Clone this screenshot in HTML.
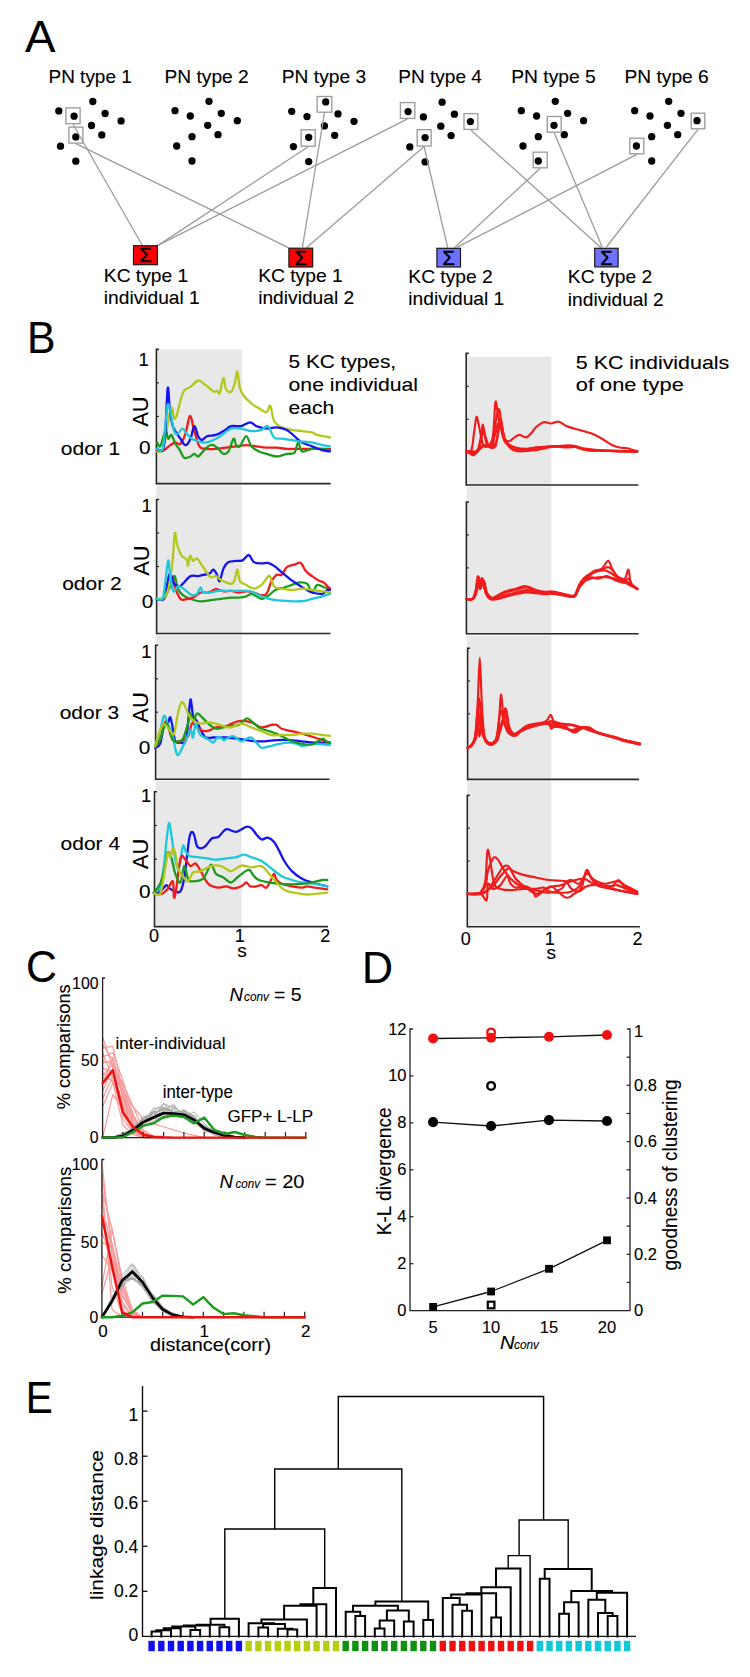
<!DOCTYPE html>
<html><head><meta charset="utf-8"><style>
html,body{margin:0;padding:0;background:#fff;}
svg{display:block;}
text{font-family:"Liberation Sans", sans-serif;stroke:#000;stroke-width:0.12px;}
</style></head><body>
<svg width="750" height="1677" viewBox="0 0 750 1677">
<rect x="0" y="0" width="750" height="1677" fill="#fff"/>
<text x="25.0" y="52.0" font-size="43.5" textLength="30.5" lengthAdjust="spacingAndGlyphs" >A</text>
<text x="48.5" y="82.6" font-size="18.4" textLength="83.3" lengthAdjust="spacingAndGlyphs" >PN type 1</text>
<text x="164.5" y="82.6" font-size="18.4" textLength="84.3" lengthAdjust="spacingAndGlyphs" >PN type 2</text>
<text x="281.8" y="82.6" font-size="18.4" textLength="84.3" lengthAdjust="spacingAndGlyphs" >PN type 3</text>
<text x="398.2" y="82.6" font-size="18.4" textLength="83.8" lengthAdjust="spacingAndGlyphs" >PN type 4</text>
<text x="511.2" y="82.6" font-size="18.4" textLength="84.6" lengthAdjust="spacingAndGlyphs" >PN type 5</text>
<text x="624.5" y="82.6" font-size="18.4" textLength="84.3" lengthAdjust="spacingAndGlyphs" >PN type 6</text>
<circle cx="58.8" cy="110.9" r="3.65" fill="#000" stroke="none" stroke-width="1.0"/>
<circle cx="92.8" cy="101.5" r="3.65" fill="#000" stroke="none" stroke-width="1.0"/>
<circle cx="74.1" cy="116.2" r="3.65" fill="#000" stroke="none" stroke-width="1.0"/>
<circle cx="105.1" cy="113.5" r="3.65" fill="#000" stroke="none" stroke-width="1.0"/>
<circle cx="121.1" cy="120.9" r="3.65" fill="#000" stroke="none" stroke-width="1.0"/>
<circle cx="91.5" cy="125.5" r="3.65" fill="#000" stroke="none" stroke-width="1.0"/>
<circle cx="101.8" cy="134.9" r="3.65" fill="#000" stroke="none" stroke-width="1.0"/>
<circle cx="75.8" cy="136.9" r="3.65" fill="#000" stroke="none" stroke-width="1.0"/>
<circle cx="60.5" cy="146.2" r="3.65" fill="#000" stroke="none" stroke-width="1.0"/>
<circle cx="75.8" cy="161.2" r="3.65" fill="#000" stroke="none" stroke-width="1.0"/>
<circle cx="175.0" cy="110.7" r="3.65" fill="#000" stroke="none" stroke-width="1.0"/>
<circle cx="209.0" cy="101.3" r="3.65" fill="#000" stroke="none" stroke-width="1.0"/>
<circle cx="190.3" cy="116.0" r="3.65" fill="#000" stroke="none" stroke-width="1.0"/>
<circle cx="221.3" cy="113.3" r="3.65" fill="#000" stroke="none" stroke-width="1.0"/>
<circle cx="237.3" cy="120.7" r="3.65" fill="#000" stroke="none" stroke-width="1.0"/>
<circle cx="207.7" cy="125.3" r="3.65" fill="#000" stroke="none" stroke-width="1.0"/>
<circle cx="218.0" cy="134.7" r="3.65" fill="#000" stroke="none" stroke-width="1.0"/>
<circle cx="192.0" cy="136.7" r="3.65" fill="#000" stroke="none" stroke-width="1.0"/>
<circle cx="176.7" cy="146.0" r="3.65" fill="#000" stroke="none" stroke-width="1.0"/>
<circle cx="192.0" cy="161.0" r="3.65" fill="#000" stroke="none" stroke-width="1.0"/>
<circle cx="291.7" cy="111.3" r="3.65" fill="#000" stroke="none" stroke-width="1.0"/>
<circle cx="325.7" cy="101.9" r="3.65" fill="#000" stroke="none" stroke-width="1.0"/>
<circle cx="307.0" cy="116.6" r="3.65" fill="#000" stroke="none" stroke-width="1.0"/>
<circle cx="338.0" cy="113.9" r="3.65" fill="#000" stroke="none" stroke-width="1.0"/>
<circle cx="354.0" cy="121.3" r="3.65" fill="#000" stroke="none" stroke-width="1.0"/>
<circle cx="324.4" cy="125.9" r="3.65" fill="#000" stroke="none" stroke-width="1.0"/>
<circle cx="334.7" cy="135.3" r="3.65" fill="#000" stroke="none" stroke-width="1.0"/>
<circle cx="308.7" cy="137.3" r="3.65" fill="#000" stroke="none" stroke-width="1.0"/>
<circle cx="293.4" cy="146.6" r="3.65" fill="#000" stroke="none" stroke-width="1.0"/>
<circle cx="308.7" cy="161.6" r="3.65" fill="#000" stroke="none" stroke-width="1.0"/>
<circle cx="408.1" cy="111.6" r="3.65" fill="#000" stroke="none" stroke-width="1.0"/>
<circle cx="442.1" cy="102.2" r="3.65" fill="#000" stroke="none" stroke-width="1.0"/>
<circle cx="423.4" cy="116.9" r="3.65" fill="#000" stroke="none" stroke-width="1.0"/>
<circle cx="454.4" cy="114.2" r="3.65" fill="#000" stroke="none" stroke-width="1.0"/>
<circle cx="470.4" cy="121.6" r="3.65" fill="#000" stroke="none" stroke-width="1.0"/>
<circle cx="440.8" cy="126.2" r="3.65" fill="#000" stroke="none" stroke-width="1.0"/>
<circle cx="451.1" cy="135.6" r="3.65" fill="#000" stroke="none" stroke-width="1.0"/>
<circle cx="425.1" cy="137.6" r="3.65" fill="#000" stroke="none" stroke-width="1.0"/>
<circle cx="409.8" cy="146.9" r="3.65" fill="#000" stroke="none" stroke-width="1.0"/>
<circle cx="425.1" cy="161.9" r="3.65" fill="#000" stroke="none" stroke-width="1.0"/>
<circle cx="521.3" cy="110.7" r="3.65" fill="#000" stroke="none" stroke-width="1.0"/>
<circle cx="555.3" cy="101.3" r="3.65" fill="#000" stroke="none" stroke-width="1.0"/>
<circle cx="536.6" cy="116.0" r="3.65" fill="#000" stroke="none" stroke-width="1.0"/>
<circle cx="567.6" cy="113.3" r="3.65" fill="#000" stroke="none" stroke-width="1.0"/>
<circle cx="583.6" cy="120.7" r="3.65" fill="#000" stroke="none" stroke-width="1.0"/>
<circle cx="554.0" cy="125.3" r="3.65" fill="#000" stroke="none" stroke-width="1.0"/>
<circle cx="564.3" cy="134.7" r="3.65" fill="#000" stroke="none" stroke-width="1.0"/>
<circle cx="538.3" cy="136.7" r="3.65" fill="#000" stroke="none" stroke-width="1.0"/>
<circle cx="523.0" cy="146.0" r="3.65" fill="#000" stroke="none" stroke-width="1.0"/>
<circle cx="538.3" cy="161.0" r="3.65" fill="#000" stroke="none" stroke-width="1.0"/>
<circle cx="634.7" cy="110.7" r="3.65" fill="#000" stroke="none" stroke-width="1.0"/>
<circle cx="668.7" cy="101.3" r="3.65" fill="#000" stroke="none" stroke-width="1.0"/>
<circle cx="650.0" cy="116.0" r="3.65" fill="#000" stroke="none" stroke-width="1.0"/>
<circle cx="681.0" cy="113.3" r="3.65" fill="#000" stroke="none" stroke-width="1.0"/>
<circle cx="697.0" cy="120.7" r="3.65" fill="#000" stroke="none" stroke-width="1.0"/>
<circle cx="667.4" cy="125.3" r="3.65" fill="#000" stroke="none" stroke-width="1.0"/>
<circle cx="677.7" cy="134.7" r="3.65" fill="#000" stroke="none" stroke-width="1.0"/>
<circle cx="651.7" cy="136.7" r="3.65" fill="#000" stroke="none" stroke-width="1.0"/>
<circle cx="636.4" cy="146.0" r="3.65" fill="#000" stroke="none" stroke-width="1.0"/>
<circle cx="651.7" cy="161.0" r="3.65" fill="#000" stroke="none" stroke-width="1.0"/>
<line x1="73.0" y1="124.2" x2="142.4" y2="245.5" stroke="#9c9c9c" stroke-width="1.3" />
<line x1="75.9" y1="143.6" x2="288.7" y2="247.8" stroke="#9c9c9c" stroke-width="1.3" />
<line x1="324.5" y1="112.7" x2="302.4" y2="247.4" stroke="#9c9c9c" stroke-width="1.3" />
<line x1="308.2" y1="146.7" x2="158.0" y2="245.4" stroke="#9c9c9c" stroke-width="1.3" />
<line x1="407.6" y1="118.9" x2="158.0" y2="245.4" stroke="#9c9c9c" stroke-width="1.3" />
<line x1="424.1" y1="146.5" x2="306.7" y2="247.4" stroke="#9c9c9c" stroke-width="1.3" />
<line x1="424.1" y1="146.5" x2="447.7" y2="247.6" stroke="#9c9c9c" stroke-width="1.3" />
<line x1="470.9" y1="129.9" x2="600.8" y2="247.4" stroke="#9c9c9c" stroke-width="1.3" />
<line x1="554.2" y1="132.7" x2="602.4" y2="247.4" stroke="#9c9c9c" stroke-width="1.3" />
<line x1="540.2" y1="168.3" x2="454.7" y2="247.4" stroke="#9c9c9c" stroke-width="1.3" />
<line x1="698.0" y1="129.3" x2="606.4" y2="247.0" stroke="#9c9c9c" stroke-width="1.3" />
<line x1="636.8" y1="154.3" x2="457.3" y2="247.2" stroke="#9c9c9c" stroke-width="1.3" />
<rect x="65.9" y="107.9" width="14.2" height="15.8" fill="none" stroke="#9c9c9c" stroke-width="1.35" />
<rect x="68.9" y="127.1" width="14.0" height="16.0" fill="none" stroke="#9c9c9c" stroke-width="1.35" />
<rect x="317.2" y="96.5" width="14.6" height="15.7" fill="none" stroke="#9c9c9c" stroke-width="1.35" />
<rect x="301.2" y="129.8" width="14.0" height="16.4" fill="none" stroke="#9c9c9c" stroke-width="1.35" />
<rect x="400.4" y="102.6" width="14.4" height="15.8" fill="none" stroke="#9c9c9c" stroke-width="1.35" />
<rect x="417.2" y="129.7" width="13.9" height="16.3" fill="none" stroke="#9c9c9c" stroke-width="1.35" />
<rect x="464.0" y="113.6" width="13.9" height="15.8" fill="none" stroke="#9c9c9c" stroke-width="1.35" />
<rect x="547.2" y="116.5" width="14.0" height="15.7" fill="none" stroke="#9c9c9c" stroke-width="1.35" />
<rect x="533.2" y="152.2" width="14.0" height="15.6" fill="none" stroke="#9c9c9c" stroke-width="1.35" />
<rect x="691.2" y="113.2" width="13.6" height="15.6" fill="none" stroke="#9c9c9c" stroke-width="1.35" />
<rect x="629.8" y="138.2" width="14.0" height="15.6" fill="none" stroke="#9c9c9c" stroke-width="1.35" />
<rect x="133.5" y="245.7" width="23.9" height="19.0" fill="#ff0000" stroke="#1a1a1a" stroke-width="1.2" />
<text x="145.4" y="262.4" font-size="20" text-anchor="middle" font-family='"Liberation Serif", serif' style="stroke-width:0.5px">Σ</text>
<text x="103.8" y="281.7" font-size="18.4" textLength="84.5" lengthAdjust="spacingAndGlyphs" >KC type 1</text>
<text x="103.8" y="304.0" font-size="18.4" textLength="96.0" lengthAdjust="spacingAndGlyphs" >individual 1</text>
<rect x="288.9" y="248.2" width="23.8" height="18.8" fill="#ff0000" stroke="#1a1a1a" stroke-width="1.2" />
<text x="300.8" y="264.7" font-size="20" text-anchor="middle" font-family='"Liberation Serif", serif' style="stroke-width:0.5px">Σ</text>
<text x="258.2" y="281.7" font-size="18.4" textLength="84.5" lengthAdjust="spacingAndGlyphs" >KC type 1</text>
<text x="258.2" y="304.3" font-size="18.4" textLength="96.0" lengthAdjust="spacingAndGlyphs" >individual 2</text>
<rect x="436.9" y="248.3" width="23.6" height="18.7" fill="#7070ff" stroke="#1a1a1a" stroke-width="1.2" />
<text x="448.7" y="264.7" font-size="20" text-anchor="middle" font-family='"Liberation Serif", serif' style="stroke-width:0.5px">Σ</text>
<text x="408.3" y="282.7" font-size="18.4" textLength="84.5" lengthAdjust="spacingAndGlyphs" >KC type 2</text>
<text x="408.3" y="305.2" font-size="18.4" textLength="96.0" lengthAdjust="spacingAndGlyphs" >individual 1</text>
<rect x="594.7" y="248.3" width="23.4" height="18.6" fill="#7070ff" stroke="#1a1a1a" stroke-width="1.2" />
<text x="606.4" y="264.6" font-size="20" text-anchor="middle" font-family='"Liberation Serif", serif' style="stroke-width:0.5px">Σ</text>
<text x="567.8" y="283.4" font-size="18.4" textLength="84.5" lengthAdjust="spacingAndGlyphs" >KC type 2</text>
<text x="567.8" y="306.1" font-size="18.4" textLength="96.0" lengthAdjust="spacingAndGlyphs" >individual 2</text>
<text x="27.0" y="352.5" font-size="43.5" textLength="28.5" lengthAdjust="spacingAndGlyphs" >B</text>
<polygon points="156.6,349.5 242.0,349.5 241.6,926.5 155.3,926.5" fill="#e8e8e8"/>
<polygon points="466.5,356.8 551.3,356.8 551.3,926.5 467.5,926.5" fill="#e8e8e8"/>
<line x1="157.2" y1="485.0" x2="330.7" y2="485.0" stroke="#f8f8f8" stroke-width="1.0" />
<path d="M158.9,349.4 H156.4 V483.6 H330.7" fill="none" stroke="#2a2a2a" stroke-width="1.6"/>
<line x1="156.4" y1="382.9" x2="158.9" y2="382.9" stroke="#2a2a2a" stroke-width="1.2" />
<line x1="156.4" y1="416.5" x2="158.9" y2="416.5" stroke="#2a2a2a" stroke-width="1.2" />
<line x1="157.4" y1="634.9" x2="330.5" y2="634.9" stroke="#f8f8f8" stroke-width="1.0" />
<path d="M159.1,499.5 H156.6 V633.5 H330.5" fill="none" stroke="#2a2a2a" stroke-width="1.6"/>
<line x1="156.6" y1="533.0" x2="159.1" y2="533.0" stroke="#2a2a2a" stroke-width="1.2" />
<line x1="156.6" y1="566.5" x2="159.1" y2="566.5" stroke="#2a2a2a" stroke-width="1.2" />
<line x1="156.4" y1="780.6" x2="329.5" y2="780.6" stroke="#f8f8f8" stroke-width="1.0" />
<path d="M158.1,645.3 H155.6 V779.2 H329.5" fill="none" stroke="#2a2a2a" stroke-width="1.6"/>
<line x1="155.6" y1="678.8" x2="158.1" y2="678.8" stroke="#2a2a2a" stroke-width="1.2" />
<line x1="155.6" y1="712.2" x2="158.1" y2="712.2" stroke="#2a2a2a" stroke-width="1.2" />
<line x1="155.3" y1="928.0" x2="328.0" y2="928.0" stroke="#f8f8f8" stroke-width="1.0" />
<path d="M157.0,791.8 H154.5 V926.6 H328.0" fill="none" stroke="#2a2a2a" stroke-width="1.6"/>
<line x1="154.5" y1="825.5" x2="157.0" y2="825.5" stroke="#2a2a2a" stroke-width="1.2" />
<line x1="154.5" y1="859.2" x2="157.0" y2="859.2" stroke="#2a2a2a" stroke-width="1.2" />
<line x1="467.0" y1="486.4" x2="638.4" y2="486.4" stroke="#f8f8f8" stroke-width="1.0" />
<path d="M468.7,353.4 H466.2 V485.0 H638.4" fill="none" stroke="#2a2a2a" stroke-width="1.6"/>
<line x1="466.2" y1="386.3" x2="468.7" y2="386.3" stroke="#2a2a2a" stroke-width="1.2" />
<line x1="466.2" y1="419.2" x2="468.7" y2="419.2" stroke="#2a2a2a" stroke-width="1.2" />
<line x1="467.2" y1="635.2" x2="638.6" y2="635.2" stroke="#f8f8f8" stroke-width="1.0" />
<path d="M468.9,502.0 H466.4 V633.8 H638.6" fill="none" stroke="#2a2a2a" stroke-width="1.6"/>
<line x1="466.4" y1="535.0" x2="468.9" y2="535.0" stroke="#2a2a2a" stroke-width="1.2" />
<line x1="466.4" y1="567.9" x2="468.9" y2="567.9" stroke="#2a2a2a" stroke-width="1.2" />
<line x1="468.4" y1="780.8" x2="639.0" y2="780.8" stroke="#f8f8f8" stroke-width="1.0" />
<path d="M470.1,648.2 H467.6 V779.4 H639.0" fill="none" stroke="#2a2a2a" stroke-width="1.6"/>
<line x1="467.6" y1="681.0" x2="470.1" y2="681.0" stroke="#2a2a2a" stroke-width="1.2" />
<line x1="467.6" y1="713.8" x2="470.1" y2="713.8" stroke="#2a2a2a" stroke-width="1.2" />
<line x1="468.1" y1="928.1" x2="639.9" y2="928.1" stroke="#f8f8f8" stroke-width="1.0" />
<path d="M469.8,795.4 H467.3 V926.7 H639.9" fill="none" stroke="#2a2a2a" stroke-width="1.6"/>
<line x1="467.3" y1="828.2" x2="469.8" y2="828.2" stroke="#2a2a2a" stroke-width="1.2" />
<line x1="467.3" y1="861.0" x2="469.8" y2="861.0" stroke="#2a2a2a" stroke-width="1.2" />
<path d="M157.1,451.4 C157.8,451.4 160.3,452.3 161.4,451.4 C162.5,450.6 163.1,449.7 163.9,446.3 C164.8,443.0 165.4,437.1 166.5,431.1 C167.5,425.2 169.3,414.7 170.3,410.9 C171.2,407.1 171.7,407.1 172.3,408.3 C172.9,409.6 173.4,417.2 174.1,418.5 C174.8,419.7 175.5,418.9 176.6,415.9 C177.7,413.0 179.1,405.0 180.4,400.7 C181.7,396.5 182.5,392.9 184.2,390.6 C185.9,388.3 188.2,388.5 190.5,386.8 C192.9,385.1 195.8,380.9 198.1,380.5 C200.5,380.0 202.4,382.8 204.5,384.3 C206.6,385.7 209.1,388.1 210.8,389.3 C212.5,390.6 213.6,391.7 214.6,391.9 C215.7,392.1 216.3,390.4 217.1,390.6 C218.0,390.8 218.6,395.2 219.7,393.1 C220.7,391.0 222.4,378.6 223.5,377.9 C224.5,377.3 224.7,387.0 226.0,389.3 C227.3,391.7 229.6,392.9 231.1,391.9 C232.6,390.8 233.8,386.4 234.9,383.0 C235.9,379.6 236.6,370.8 237.4,371.6 C238.3,372.4 238.9,384.1 239.9,388.1 C241.0,392.1 241.8,393.1 243.7,395.7 C245.6,398.2 248.8,401.2 251.3,403.3 C253.9,405.4 256.4,406.9 258.9,408.3 C261.5,409.8 264.6,412.6 266.5,412.1 C268.4,411.7 269.1,404.3 270.3,405.8 C271.6,407.3 272.2,417.4 274.1,421.0 C276.0,424.6 278.8,425.9 281.7,427.3 C284.7,428.8 288.5,429.2 291.9,429.9 C295.3,430.5 298.6,430.7 302.0,431.1 C305.4,431.6 309.6,431.8 312.1,432.4 C314.7,433.0 314.3,434.1 317.2,434.9 C320.2,435.8 327.8,437.1 329.9,437.5" fill="none" stroke="#b4c81c" stroke-width="2.3" stroke-linejoin="round" stroke-linecap="round" />
<path d="M157.1,450.1 C158.2,450.1 161.7,451.0 163.9,450.1 C166.1,449.3 168.4,446.3 170.3,445.1 C172.2,443.8 173.6,442.8 175.3,442.5 C177.0,442.3 178.7,445.3 180.4,443.8 C182.1,442.3 183.9,438.3 185.5,433.7 C187.1,429.0 188.6,416.4 190.0,415.9 C191.5,415.5 192.8,426.1 194.3,431.1 C195.9,436.2 197.5,443.4 199.4,446.3 C201.3,449.3 203.0,448.5 205.7,448.9 C208.5,449.3 212.5,449.1 215.9,448.9 C219.3,448.7 222.6,448.0 226.0,447.6 C229.4,447.2 232.8,446.8 236.1,446.3 C239.5,445.9 242.9,445.1 246.3,445.1 C249.7,445.1 253.0,445.9 256.4,446.3 C259.8,446.8 263.2,447.4 266.5,447.6 C269.9,447.8 273.3,447.4 276.7,447.6 C280.1,447.8 283.4,448.7 286.8,448.9 C290.2,449.1 293.6,448.9 296.9,448.9 C300.3,448.9 303.7,448.9 307.1,448.9 C310.5,448.9 313.4,448.9 317.2,448.9 C321.0,448.9 327.8,448.9 329.9,448.9" fill="none" stroke="#f01c1c" stroke-width="2.3" stroke-linejoin="round" stroke-linecap="round" />
<path d="M157.1,442.5 C157.6,443.2 159.0,447.6 160.1,446.3 C161.3,445.1 163.0,437.7 163.9,434.9 C164.9,432.2 165.0,429.2 165.7,429.9 C166.4,430.5 167.3,437.9 168.2,438.7 C169.2,439.6 170.4,434.1 171.5,434.9 C172.7,435.8 174.1,441.5 175.3,443.8 C176.6,446.1 177.7,446.6 179.1,448.9 C180.6,451.2 182.3,456.5 184.2,457.7 C186.1,459.0 188.8,457.1 190.5,456.5 C192.2,455.8 193.1,453.9 194.3,453.9 C195.6,453.9 196.9,456.7 198.1,456.5 C199.4,456.3 200.2,454.4 201.9,452.7 C203.6,451.0 206.4,447.6 208.3,446.3 C210.2,445.1 211.7,444.7 213.3,445.1 C215.0,445.5 216.7,447.4 218.4,448.9 C220.1,450.4 221.8,453.5 223.5,453.9 C225.2,454.4 226.9,453.9 228.5,451.4 C230.2,448.9 232.3,439.8 233.6,438.7 C234.9,437.7 235.1,443.8 236.1,445.1 C237.2,446.3 238.3,447.8 239.9,446.3 C241.6,444.9 244.4,436.2 246.3,436.2 C248.2,436.2 249.2,443.8 251.3,446.3 C253.5,448.9 256.4,450.1 258.9,451.4 C261.5,452.7 263.6,453.1 266.5,453.9 C269.5,454.8 273.3,456.5 276.7,456.5 C280.1,456.5 283.9,454.6 286.8,453.9 C289.8,453.3 292.5,454.6 294.4,452.7 C296.3,450.8 296.9,442.8 298.2,442.5 C299.5,442.3 299.7,450.4 302.0,451.4 C304.3,452.5 308.8,449.3 312.1,448.9 C315.5,448.5 319.3,448.7 322.3,448.9 C325.2,449.1 328.6,449.9 329.9,450.1" fill="none" stroke="#1c9c1c" stroke-width="2.3" stroke-linejoin="round" stroke-linecap="round" />
<path d="M157.1,448.9 C158.0,449.1 161.3,452.7 162.7,450.1 C164.0,447.6 164.4,444.0 165.2,433.7 C166.0,423.3 167.0,392.3 167.7,388.1 C168.5,383.8 168.9,402.0 169.8,408.3 C170.6,414.7 171.0,421.0 172.8,426.1 C174.6,431.1 178.3,435.6 180.4,438.7 C182.5,441.9 183.8,445.1 185.5,445.1 C187.2,445.1 189.1,441.9 190.5,438.7 C192.0,435.6 193.1,426.5 194.3,426.1 C195.6,425.7 196.9,433.9 198.1,436.2 C199.4,438.5 200.5,440.0 201.9,440.0 C203.4,440.0 204.7,437.1 207.0,436.2 C209.3,435.4 213.1,435.8 215.9,434.9 C218.6,434.1 220.9,432.6 223.5,431.1 C226.0,429.7 228.1,426.9 231.1,426.1 C234.0,425.2 238.0,426.7 241.2,426.1 C244.4,425.4 247.5,422.3 250.1,422.3 C252.6,422.3 253.7,425.0 256.4,426.1 C259.2,427.1 263.2,428.4 266.5,428.6 C269.9,428.8 273.3,427.1 276.7,427.3 C280.1,427.6 283.9,428.4 286.8,429.9 C289.8,431.4 291.9,434.1 294.4,436.2 C296.9,438.3 299.1,440.9 302.0,442.5 C305.0,444.2 308.8,445.1 312.1,446.3 C315.5,447.6 319.3,449.3 322.3,450.1 C325.2,451.0 328.6,451.2 329.9,451.4" fill="none" stroke="#1414f0" stroke-width="2.3" stroke-linejoin="round" stroke-linecap="round" />
<path d="M157.1,448.9 C158.0,448.9 161.2,453.5 162.7,448.9 C164.1,444.2 164.9,428.4 165.7,421.0 C166.6,413.6 167.0,406.2 167.7,404.5 C168.5,402.8 169.2,406.4 170.3,410.9 C171.3,415.3 172.8,427.3 174.1,431.1 C175.3,434.9 176.5,434.1 177.9,433.7 C179.3,433.3 181.0,428.6 182.4,428.6 C183.9,428.6 185.2,432.0 186.7,433.7 C188.3,435.4 189.9,437.5 191.8,438.7 C193.7,440.0 195.8,440.6 198.1,441.3 C200.5,441.9 202.8,443.0 205.7,442.5 C208.7,442.1 212.9,440.2 215.9,438.7 C218.8,437.3 220.9,435.4 223.5,433.7 C226.0,432.0 228.1,429.5 231.1,428.6 C234.0,427.8 237.8,428.2 241.2,428.6 C244.6,429.0 248.0,430.9 251.3,431.1 C254.7,431.4 258.7,430.7 261.5,429.9 C264.2,429.0 265.7,424.8 267.8,426.1 C269.9,427.3 271.8,435.4 274.1,437.5 C276.5,439.6 278.8,438.3 281.7,438.7 C284.7,439.2 288.9,439.6 291.9,440.0 C294.8,440.4 296.1,440.9 299.5,441.3 C302.9,441.7 308.3,441.9 312.1,442.5 C315.9,443.2 319.3,444.4 322.3,445.1 C325.2,445.7 328.6,446.1 329.9,446.3" fill="none" stroke="#1ec8dc" stroke-width="2.3" stroke-linejoin="round" stroke-linecap="round" />
<path d="M466.3,451.3 C467.2,451.1 470.1,453.0 471.4,450.1 C472.7,447.1 473.1,439.1 473.9,433.6 C474.8,428.1 475.6,418.4 476.5,417.1 C477.3,415.9 477.9,421.6 479.0,426.0 C480.1,430.4 481.3,440.4 482.8,443.7 C484.3,447.1 486.2,447.5 487.9,446.3 C489.6,445.0 491.7,443.5 492.9,436.1 C494.2,428.8 494.6,405.3 495.5,401.9 C496.3,398.6 497.2,411.9 498.0,415.9 C498.8,419.9 499.5,422.2 500.5,426.0 C501.6,429.8 502.9,436.1 504.3,438.7 C505.8,441.2 507.7,441.4 509.4,441.2 C511.1,441.0 512.8,438.5 514.5,437.4 C516.2,436.4 517.6,434.9 519.5,434.9 C521.4,434.9 524.0,437.6 525.9,437.4 C527.8,437.2 529.3,435.3 530.9,433.6 C532.6,431.9 533.9,429.2 536.0,427.3 C538.1,425.4 541.1,422.8 543.6,422.2 C546.1,421.6 548.7,423.6 551.2,423.5 C553.7,423.4 556.3,421.3 558.8,421.7 C561.3,422.1 563.9,424.9 566.4,426.0 C568.9,427.1 571.5,427.8 574.0,428.5 C576.5,429.3 578.7,429.7 581.6,430.6 C584.6,431.4 588.4,432.3 591.7,433.6 C595.1,435.0 598.5,436.8 601.9,438.7 C605.3,440.6 609.1,443.5 612.0,445.0 C615.0,446.5 617.1,447.0 619.6,447.5 C622.1,448.1 624.3,447.7 627.2,448.3 C630.2,448.9 635.7,450.8 637.3,451.3" fill="none" stroke="#f01c1c" stroke-width="2.15" stroke-linejoin="round" stroke-linecap="round" />
<path d="M466.3,451.3 C467.4,451.3 470.8,451.6 472.7,451.3 C474.6,451.1 476.3,453.0 477.7,450.1 C479.2,447.1 480.7,437.8 481.5,433.6 C482.4,429.4 482.2,424.3 482.8,424.7 C483.4,425.2 484.3,432.6 485.3,436.1 C486.4,439.7 487.9,444.8 489.1,446.3 C490.4,447.8 491.9,448.8 492.9,445.0 C494.0,441.2 494.4,429.4 495.5,423.5 C496.5,417.6 498.0,407.2 499.3,409.5 C500.5,411.9 501.6,431.5 503.1,437.4 C504.5,443.3 506.0,443.1 508.1,445.0 C510.2,446.9 512.8,448.0 515.7,448.8 C518.7,449.7 522.5,450.3 525.9,450.1 C529.3,449.9 531.8,448.2 536.0,447.5 C540.2,446.9 547.0,446.6 551.2,446.3 C555.4,446.0 558.0,445.9 561.3,445.8 C564.7,445.7 568.1,445.3 571.5,445.8 C574.9,446.3 578.2,448.1 581.6,448.8 C585.0,449.5 586.7,449.7 591.7,450.1 C596.8,450.4 604.4,450.6 612.0,450.8 C619.6,451.0 633.1,451.3 637.3,451.3" fill="none" stroke="#f01c1c" stroke-width="2.15" stroke-linejoin="round" stroke-linecap="round" />
<path d="M466.3,451.3 C467.6,451.8 472.0,453.9 473.9,453.9 C475.8,453.9 476.7,453.0 477.7,451.3 C478.8,449.7 479.3,447.1 480.3,443.7 C481.2,440.4 482.3,431.1 483.3,431.1 C484.4,431.1 485.4,441.0 486.6,443.7 C487.8,446.5 488.9,447.1 490.4,447.5 C491.9,448.0 494.2,448.6 495.5,446.3 C496.7,444.0 497.2,437.4 498.0,433.6 C498.8,429.8 499.2,423.1 500.0,423.5 C500.9,423.9 501.7,432.8 503.1,436.1 C504.4,439.5 506.0,441.8 508.1,443.7 C510.2,445.6 512.8,446.7 515.7,447.5 C518.7,448.4 522.5,448.8 525.9,448.8 C529.3,448.8 531.8,447.9 536.0,447.5 C540.2,447.2 547.0,447.0 551.2,446.8 C555.4,446.6 557.5,446.4 561.3,446.3 C565.1,446.1 569.8,445.1 574.0,445.8 C578.2,446.4 580.3,449.2 586.7,450.1 C593.0,450.9 603.6,450.6 612.0,450.8 C620.5,451.0 633.1,451.3 637.3,451.3" fill="none" stroke="#f01c1c" stroke-width="2.15" stroke-linejoin="round" stroke-linecap="round" />
<path d="M466.3,451.3 C467.4,452.0 471.2,454.7 472.7,455.1 C474.1,455.6 473.9,454.9 475.2,453.9 C476.5,452.8 478.6,450.3 480.3,448.8 C482.0,447.3 483.6,445.4 485.3,445.0 C487.0,444.6 488.7,448.2 490.4,446.3 C492.1,444.4 494.2,437.4 495.5,433.6 C496.7,429.8 496.9,424.7 498.0,423.5 C499.1,422.2 500.5,423.1 501.8,426.0 C503.1,429.0 503.7,437.2 505.6,441.2 C507.5,445.2 510.2,448.4 513.2,450.1 C516.2,451.8 519.5,451.6 523.3,451.3 C527.1,451.1 531.4,449.7 536.0,448.8 C540.7,448.0 546.1,446.5 551.2,446.3 C556.3,446.1 562.2,447.4 566.4,447.5 C570.6,447.7 573.2,446.6 576.5,447.0 C579.9,447.5 580.8,449.4 586.7,450.1 C592.6,450.7 603.6,450.6 612.0,450.8 C620.5,451.0 633.1,451.3 637.3,451.3" fill="none" stroke="#f01c1c" stroke-width="2.15" stroke-linejoin="round" stroke-linecap="round" />
<path d="M466.3,451.3 C467.6,451.6 471.6,453.2 473.9,452.6 C476.3,452.0 478.4,448.8 480.3,447.5 C482.2,446.3 483.2,445.2 485.3,445.0 C487.4,444.8 491.0,447.1 492.9,446.3 C494.8,445.4 495.5,444.6 496.7,439.9 C498.0,435.3 499.3,418.6 500.5,418.4 C501.8,418.2 502.6,434.0 504.3,438.7 C506.0,443.3 507.9,444.2 510.7,446.3 C513.4,448.3 516.6,450.2 520.8,450.8 C525.0,451.5 530.9,450.7 536.0,450.1 C541.1,449.4 546.6,447.7 551.2,447.0 C555.9,446.4 560.1,446.4 563.9,446.3 C567.7,446.1 570.2,445.9 574.0,446.3 C577.8,446.7 580.3,448.0 586.7,448.8 C593.0,449.7 603.6,450.9 612.0,451.3 C620.5,451.8 633.1,451.3 637.3,451.3" fill="none" stroke="#f01c1c" stroke-width="2.15" stroke-linejoin="round" stroke-linecap="round" />
<path d="M156.3,598.9 C157.6,598.9 161.8,600.6 163.9,598.9 C166.0,597.2 167.5,591.7 169.0,588.7 C170.5,585.8 171.8,583.3 172.8,581.1 C173.8,579.0 174.0,574.8 174.8,576.1 C175.7,577.3 176.5,585.6 177.9,588.7 C179.2,591.9 180.8,593.4 182.9,595.1 C185.0,596.8 187.6,597.8 190.5,598.9 C193.5,599.9 197.3,601.2 200.7,601.4 C204.0,601.6 207.4,600.6 210.8,600.1 C214.2,599.7 217.6,599.3 220.9,598.9 C224.3,598.5 228.1,597.8 231.1,597.6 C234.0,597.4 236.1,597.8 238.7,597.6 C241.2,597.4 244.2,597.0 246.3,596.3 C248.4,595.7 249.7,593.8 251.3,593.8 C253.0,593.8 254.5,595.5 256.4,596.3 C258.3,597.2 260.6,599.1 262.7,598.9 C264.9,598.7 267.0,596.6 269.1,595.1 C271.2,593.6 272.9,591.3 275.4,590.0 C277.9,588.7 281.5,588.3 284.3,587.5 C287.0,586.6 289.3,585.8 291.9,584.9 C294.4,584.1 296.9,582.6 299.5,582.4 C302.0,582.2 305.0,582.0 307.1,583.7 C309.2,585.4 310.5,592.3 312.1,592.5 C313.8,592.8 315.1,585.8 317.2,584.9 C319.3,584.1 322.7,586.8 324.8,587.5 C326.9,588.1 329.0,588.5 329.9,588.7" fill="none" stroke="#1c9c1c" stroke-width="2.3" stroke-linejoin="round" stroke-linecap="round" />
<path d="M156.3,598.9 C157.4,598.8 160.8,600.9 162.7,598.4 C164.6,595.8 166.3,587.4 167.7,583.7 C169.2,580.0 170.3,575.2 171.5,576.1 C172.8,576.9 173.9,584.9 175.3,588.7 C176.8,592.5 178.7,597.1 180.4,598.9 C182.1,600.6 183.4,599.6 185.5,599.4 C187.6,599.2 190.5,598.7 193.1,597.6 C195.6,596.5 198.1,593.4 200.7,592.5 C203.2,591.7 205.7,593.1 208.3,592.5 C210.8,592.0 213.3,589.5 215.9,589.2 C218.4,589.0 220.9,591.0 223.5,591.3 C226.0,591.5 228.5,590.6 231.1,590.8 C233.6,591.0 236.1,592.5 238.7,592.5 C241.2,592.6 243.7,591.3 246.3,591.3 C248.8,591.3 251.3,591.9 253.9,592.5 C256.4,593.2 259.4,594.9 261.5,595.1 C263.6,595.3 264.9,596.1 266.5,593.8 C268.2,591.5 269.9,584.3 271.6,581.1 C273.3,578.0 275.0,575.9 276.7,574.8 C278.4,573.8 280.1,576.1 281.7,574.8 C283.4,573.5 284.7,568.9 286.8,567.2 C288.9,565.5 292.1,565.4 294.4,564.7 C296.7,564.0 298.8,561.8 300.7,562.9 C302.6,564.0 303.9,568.8 305.8,571.0 C307.7,573.2 309.8,574.4 312.1,576.1 C314.5,577.8 317.8,580.1 319.7,581.1 C321.6,582.2 321.9,581.1 323.5,582.4 C325.2,583.7 328.8,587.7 329.9,588.7" fill="none" stroke="#f01c1c" stroke-width="2.3" stroke-linejoin="round" stroke-linecap="round" />
<path d="M156.3,598.9 C157.6,598.9 162.0,601.8 163.9,598.9 C165.8,595.9 166.7,585.4 167.7,581.1 C168.8,576.9 169.2,573.1 170.3,573.5 C171.3,574.0 172.6,581.6 174.1,583.7 C175.5,585.8 177.7,586.2 179.1,586.2 C180.6,586.2 181.0,585.4 182.9,583.7 C184.8,582.0 188.0,577.3 190.5,576.1 C193.1,574.8 196.0,576.3 198.1,576.1 C200.2,575.9 201.3,575.2 203.2,574.8 C205.1,574.4 207.8,574.4 209.5,573.5 C211.2,572.7 212.1,569.5 213.3,569.7 C214.6,570.0 216.1,572.9 217.1,574.8 C218.2,576.7 218.6,582.2 219.7,581.1 C220.7,580.1 222.0,571.6 223.5,568.5 C225.0,565.3 226.4,563.4 228.5,562.1 C230.7,560.9 233.8,561.2 236.1,560.9 C238.5,560.6 240.4,561.3 242.5,560.4 C244.6,559.4 246.9,554.8 248.8,555.0 C250.7,555.3 251.8,560.7 253.9,562.1 C256.0,563.5 259.2,563.3 261.5,563.4 C263.8,563.5 265.7,562.5 267.8,562.9 C269.9,563.3 271.8,564.4 274.1,565.9 C276.5,567.5 279.2,570.2 281.7,572.3 C284.3,574.4 286.8,576.7 289.3,578.6 C291.9,580.5 294.4,582.0 296.9,583.7 C299.5,585.4 302.0,587.3 304.5,588.7 C307.1,590.2 309.2,591.7 312.1,592.5 C315.1,593.4 319.7,594.2 322.3,593.8 C324.8,593.4 326.1,590.6 327.3,590.0 C328.6,589.4 329.5,590.0 329.9,590.0" fill="none" stroke="#1414f0" stroke-width="2.3" stroke-linejoin="round" stroke-linecap="round" />
<path d="M156.3,598.9 C157.6,598.7 161.8,599.7 163.9,597.6 C166.0,595.5 167.5,592.8 169.0,586.2 C170.5,579.7 171.8,567.2 172.8,558.3 C173.8,549.5 174.1,535.1 174.8,533.0 C175.6,530.9 176.2,541.9 177.4,545.7 C178.5,549.5 180.1,553.5 181.7,555.8 C183.2,558.1 185.7,557.9 186.7,559.6 C187.8,561.3 187.5,566.6 188.0,565.9 C188.6,565.3 189.2,556.7 190.0,555.8 C190.9,555.0 191.9,560.5 193.1,560.9 C194.2,561.3 195.6,557.9 196.9,558.3 C198.1,558.8 199.2,561.3 200.7,563.4 C202.1,565.5 204.0,568.7 205.7,571.0 C207.4,573.3 209.1,576.5 210.8,577.3 C212.5,578.2 214.2,575.7 215.9,576.1 C217.6,576.5 219.3,578.8 220.9,579.9 C222.6,580.9 224.1,581.8 226.0,582.4 C227.9,583.0 230.9,584.3 232.3,583.7 C233.8,583.0 234.0,580.9 234.9,578.6 C235.7,576.3 236.6,569.3 237.4,569.7 C238.3,570.2 238.5,578.6 239.9,581.1 C241.4,583.7 244.0,583.7 246.3,584.9 C248.6,586.2 251.3,588.7 253.9,588.7 C256.4,588.7 259.4,586.6 261.5,584.9 C263.6,583.3 265.2,580.1 266.5,578.6 C267.9,577.1 268.6,574.8 269.8,576.1 C271.1,577.3 272.2,584.1 274.1,586.2 C276.1,588.3 278.8,588.1 281.7,588.7 C284.7,589.4 288.5,590.0 291.9,590.0 C295.3,590.0 298.6,588.7 302.0,588.7 C305.4,588.7 308.8,589.6 312.1,590.0 C315.5,590.4 319.3,590.9 322.3,591.3 C325.2,591.7 328.6,592.3 329.9,592.5" fill="none" stroke="#b4c81c" stroke-width="2.3" stroke-linejoin="round" stroke-linecap="round" />
<path d="M156.3,598.9 C157.4,598.8 161.1,601.7 162.7,598.4 C164.2,595.0 164.8,584.9 165.7,578.6 C166.6,572.3 167.5,560.8 168.2,560.4 C169.0,559.9 169.4,570.9 170.3,576.1 C171.1,581.2 172.0,589.6 173.3,591.3 C174.6,593.0 176.5,586.8 177.9,586.2 C179.3,585.6 180.2,586.6 181.7,587.5 C183.1,588.3 185.0,590.0 186.7,591.3 C188.4,592.5 190.1,594.7 191.8,595.1 C193.5,595.5 195.4,595.1 196.9,593.8 C198.3,592.5 199.6,587.7 200.7,587.5 C201.7,587.3 201.5,591.7 203.2,592.5 C204.9,593.4 208.3,592.8 210.8,592.5 C213.3,592.2 215.9,591.1 218.4,590.8 C220.9,590.5 223.1,590.8 226.0,590.8 C229.0,590.8 232.6,590.8 236.1,590.8 C239.7,590.8 244.6,590.5 247.5,590.8 C250.5,591.1 251.6,591.6 253.9,592.5 C256.2,593.5 258.9,595.3 261.5,596.3 C264.0,597.4 266.5,598.2 269.1,598.9 C271.6,599.5 273.7,599.8 276.7,600.1 C279.6,600.5 283.4,600.7 286.8,600.9 C290.2,601.1 294.0,601.4 296.9,601.4 C299.9,601.4 302.0,601.3 304.5,600.9 C307.1,600.5 309.2,599.6 312.1,598.9 C315.1,598.1 319.3,597.2 322.3,596.3 C325.2,595.5 328.6,594.2 329.9,593.8" fill="none" stroke="#1ec8dc" stroke-width="2.3" stroke-linejoin="round" stroke-linecap="round" />
<path d="M466.3,598.9 C467.4,598.9 471.1,600.1 472.7,598.9 C474.2,597.6 474.9,595.1 475.7,591.3 C476.6,587.5 477.1,576.5 477.7,576.1 C478.4,575.7 479.1,588.3 479.8,588.7 C480.4,589.2 480.9,579.9 481.5,578.6 C482.1,577.3 482.7,579.0 483.3,581.1 C483.9,583.3 484.2,588.3 485.3,591.3 C486.5,594.2 488.3,598.0 490.4,598.9 C492.5,599.7 495.5,597.4 498.0,596.3 C500.5,595.3 502.6,593.6 505.6,592.5 C508.6,591.5 512.4,590.9 515.7,590.0 C519.1,589.2 522.5,587.3 525.9,587.5 C529.3,587.7 532.6,590.4 536.0,591.3 C539.4,592.1 543.6,592.3 546.1,592.5 C548.7,592.8 548.7,592.3 551.2,592.5 C553.7,592.8 558.0,593.2 561.3,593.8 C564.7,594.4 569.2,596.1 571.5,596.3 C573.8,596.6 574.0,596.8 575.3,595.1 C576.5,593.4 577.6,589.0 579.1,586.2 C580.6,583.5 582.5,580.5 584.1,578.6 C585.8,576.7 587.5,576.1 589.2,574.8 C590.9,573.5 592.2,572.1 594.3,571.0 C596.4,570.0 599.6,570.2 601.9,568.5 C604.2,566.8 606.5,560.9 608.2,560.9 C609.9,560.9 610.5,565.9 612.0,568.5 C613.5,571.0 615.0,574.4 617.1,576.1 C619.2,577.8 622.8,579.7 624.7,578.6 C626.6,577.6 627.4,568.9 628.5,569.7 C629.5,570.6 629.5,580.5 631.0,583.7 C632.5,586.8 636.3,587.9 637.3,588.7" fill="none" stroke="#f01c1c" stroke-width="2.15" stroke-linejoin="round" stroke-linecap="round" />
<path d="M466.3,598.9 C467.4,598.9 471.0,599.9 472.7,598.9 C474.4,597.8 475.5,595.9 476.5,592.5 C477.4,589.2 477.6,579.5 478.2,578.6 C478.9,577.8 479.6,587.3 480.3,587.5 C480.9,587.7 481.7,580.5 482.3,579.9 C482.9,579.2 483.4,581.6 484.1,583.7 C484.8,585.8 485.3,590.2 486.6,592.5 C487.9,594.9 489.8,596.8 491.7,597.6 C493.6,598.5 495.7,598.0 498.0,597.6 C500.3,597.2 502.6,595.9 505.6,595.1 C508.6,594.2 512.4,593.4 515.7,592.5 C519.1,591.7 522.5,590.1 525.9,590.0 C529.3,589.9 532.6,591.2 536.0,591.8 C539.4,592.3 543.6,593.2 546.1,593.3 C548.7,593.4 548.7,592.4 551.2,592.5 C553.7,592.7 558.0,593.7 561.3,594.3 C564.7,594.9 569.2,596.2 571.5,596.3 C573.8,596.5 573.8,597.0 575.3,595.1 C576.8,593.2 578.7,587.5 580.3,584.9 C582.0,582.4 583.5,581.1 585.4,579.9 C587.3,578.6 589.6,577.6 591.7,577.3 C593.9,577.1 595.5,578.8 598.1,578.6 C600.6,578.4 604.2,575.9 606.9,576.1 C609.7,576.3 612.0,578.8 614.5,579.9 C617.1,580.9 620.0,581.8 622.1,582.4 C624.3,583.0 624.7,582.5 627.2,583.7 C629.7,584.8 635.7,588.3 637.3,589.2" fill="none" stroke="#f01c1c" stroke-width="2.15" stroke-linejoin="round" stroke-linecap="round" />
<path d="M466.3,598.9 C467.4,598.9 471.0,600.1 472.7,598.9 C474.3,597.7 475.2,595.4 476.2,591.8 C477.2,588.2 478.0,577.9 478.7,577.3 C479.5,576.7 480.1,587.7 480.8,588.2 C481.5,588.8 482.2,581.6 482.8,580.6 C483.4,579.7 483.9,580.3 484.6,582.4 C485.3,584.5 485.9,590.6 487.1,593.3 C488.3,596.0 489.9,598.0 491.7,598.9 C493.5,599.7 495.7,598.9 498.0,598.4 C500.3,597.9 502.6,596.6 505.6,595.8 C508.6,595.1 512.4,594.6 515.7,593.8 C519.1,593.0 522.5,591.5 525.9,591.3 C529.3,591.1 532.6,592.2 536.0,592.5 C539.4,592.9 543.6,593.2 546.1,593.3 C548.7,593.4 548.7,593.1 551.2,593.3 C553.7,593.5 558.0,594.0 561.3,594.6 C564.7,595.2 569.2,596.6 571.5,596.8 C573.8,597.1 573.9,597.5 575.3,595.8 C576.6,594.1 578.0,589.2 579.6,586.7 C581.1,584.3 582.8,582.5 584.7,581.1 C586.5,579.8 588.2,579.2 590.5,578.6 C592.7,578.0 595.3,577.6 598.1,577.3 C600.8,577.1 604.2,577.1 606.9,577.3 C609.7,577.6 611.8,577.8 614.5,578.6 C617.3,579.5 621.1,582.4 623.4,582.4 C625.7,582.4 627.0,578.2 628.5,578.6 C630.0,579.0 630.8,583.3 632.3,584.9 C633.8,586.6 636.5,588.1 637.3,588.7" fill="none" stroke="#f01c1c" stroke-width="2.15" stroke-linejoin="round" stroke-linecap="round" />
<path d="M466.3,598.9 C467.4,598.9 471.1,600.1 472.7,598.9 C474.3,597.6 475.1,594.2 476.0,591.3 C476.8,588.3 477.3,581.5 478.0,581.1 C478.7,580.8 479.3,589.2 480.0,589.2 C480.7,589.3 481.4,582.5 482.0,581.6 C482.7,580.8 483.1,582.2 483.8,584.2 C484.5,586.2 484.9,591.3 486.1,593.8 C487.3,596.3 488.9,598.5 490.9,599.4 C492.9,600.2 495.6,599.3 498.0,598.9 C500.5,598.5 502.6,597.6 505.6,596.8 C508.6,596.1 512.4,595.0 515.7,594.3 C519.1,593.6 522.5,592.7 525.9,592.5 C529.3,592.4 532.6,593.0 536.0,593.3 C539.4,593.6 543.6,594.2 546.1,594.3 C548.7,594.4 548.7,593.7 551.2,593.8 C553.7,593.9 558.0,594.6 561.3,595.1 C564.7,595.6 569.2,596.7 571.5,596.8 C573.8,597.0 574.1,597.2 575.3,595.8 C576.5,594.5 577.2,591.0 578.6,588.7 C580.0,586.5 582.1,584.3 583.6,582.4 C585.2,580.5 586.2,579.0 587.9,577.3 C589.7,575.7 592.0,573.5 594.3,572.3 C596.6,571.0 599.6,570.6 601.9,569.7 C604.2,568.9 606.3,567.0 608.2,567.2 C610.1,567.4 611.6,569.1 613.3,571.0 C615.0,572.9 616.4,576.9 618.3,578.6 C620.2,580.3 621.5,579.5 624.7,581.1 C627.8,582.8 635.2,587.5 637.3,588.7" fill="none" stroke="#f01c1c" stroke-width="2.15" stroke-linejoin="round" stroke-linecap="round" />
<path d="M466.3,598.9 C467.4,598.9 471.1,600.4 472.7,598.9 C474.2,597.4 474.9,593.2 475.7,590.0 C476.6,586.8 477.1,580.1 477.7,579.9 C478.4,579.7 479.1,588.5 479.8,588.7 C480.4,589.0 481.2,582.1 481.8,581.1 C482.4,580.2 482.9,581.3 483.6,583.2 C484.2,585.0 484.4,589.8 485.6,592.3 C486.7,594.8 488.3,597.9 490.4,598.4 C492.5,598.8 495.5,596.3 498.0,595.1 C500.5,593.9 502.6,592.3 505.6,591.3 C508.6,590.2 512.4,589.6 515.7,588.7 C519.1,587.9 522.5,586.0 525.9,586.2 C529.3,586.4 532.6,589.1 536.0,590.0 C539.4,590.9 543.6,591.6 546.1,591.8 C548.7,592.0 548.7,591.0 551.2,591.3 C553.7,591.5 558.0,592.5 561.3,593.3 C564.7,594.1 569.2,595.7 571.5,595.8 C573.8,596.0 574.0,596.1 575.3,594.3 C576.5,592.5 577.6,587.6 579.1,584.9 C580.6,582.2 582.4,579.9 584.1,578.1 C585.9,576.3 587.6,575.1 589.7,574.0 C591.8,572.9 594.4,572.1 596.8,571.5 C599.3,570.9 602.3,570.4 604.4,570.5 C606.5,570.6 607.4,571.1 609.5,572.3 C611.6,573.4 614.5,576.1 617.1,577.3 C619.6,578.6 621.3,577.9 624.7,579.9 C628.1,581.9 635.2,587.7 637.3,589.2" fill="none" stroke="#f01c1c" stroke-width="2.15" stroke-linejoin="round" stroke-linecap="round" />
<path d="M155.1,747.7 C155.9,747.0 158.7,747.5 160.1,743.9 C161.6,740.3 162.7,729.5 163.9,726.1 C165.2,722.8 166.7,725.1 167.7,723.6 C168.8,722.1 169.4,716.4 170.3,717.3 C171.1,718.1 172.0,724.7 172.8,728.7 C173.6,732.7 174.1,739.0 175.3,741.3 C176.6,743.7 178.7,742.6 180.4,742.6 C182.1,742.6 184.2,744.5 185.5,741.3 C186.7,738.2 187.2,730.6 188.0,723.6 C188.8,716.6 189.7,700.8 190.5,699.5 C191.4,698.3 192.0,712.4 193.1,716.0 C194.1,719.6 195.6,718.8 196.9,721.1 C198.1,723.4 199.2,727.2 200.7,729.9 C202.1,732.7 203.6,736.3 205.7,737.5 C207.8,738.8 210.0,737.5 213.3,737.5 C216.7,737.5 221.8,737.3 226.0,737.5 C230.2,737.8 234.5,738.3 238.7,738.8 C242.9,739.4 247.1,740.4 251.3,740.8 C255.6,741.3 259.8,741.5 264.0,741.3 C268.2,741.2 272.5,740.3 276.7,740.1 C280.9,739.9 285.1,739.9 289.3,740.1 C293.6,740.3 297.8,740.9 302.0,741.3 C306.2,741.8 310.0,742.4 314.7,742.6 C319.3,742.8 327.3,742.6 329.9,742.6" fill="none" stroke="#1414f0" stroke-width="2.3" stroke-linejoin="round" stroke-linecap="round" />
<path d="M155.1,746.4 C155.9,745.1 158.7,742.2 160.1,738.8 C161.6,735.4 162.9,729.1 163.9,726.1 C165.0,723.2 165.4,719.8 166.5,721.1 C167.5,722.3 169.0,730.4 170.3,733.7 C171.5,737.1 172.4,740.1 174.1,741.3 C175.8,742.6 178.1,742.2 180.4,741.3 C182.7,740.5 186.1,739.2 188.0,736.3 C189.9,733.3 190.5,725.3 191.8,723.6 C193.1,721.9 194.1,725.1 195.6,726.1 C197.1,727.2 199.0,729.1 200.7,729.9 C202.4,730.8 204.0,731.2 205.7,731.2 C207.4,731.2 209.1,730.6 210.8,729.9 C212.5,729.3 213.3,728.0 215.9,727.4 C218.4,726.8 222.2,727.2 226.0,726.1 C229.8,725.1 234.5,721.7 238.7,721.1 C242.9,720.4 247.5,721.3 251.3,722.3 C255.1,723.4 258.1,727.0 261.5,727.4 C264.9,727.8 269.1,725.3 271.6,724.9 C274.1,724.5 275.0,724.2 276.7,724.9 C278.4,725.5 279.2,727.6 281.7,728.7 C284.3,729.7 288.5,730.4 291.9,731.2 C295.3,732.1 298.2,732.7 302.0,733.7 C305.8,734.8 310.0,736.1 314.7,737.5 C319.3,739.0 327.3,741.8 329.9,742.6" fill="none" stroke="#f01c1c" stroke-width="2.3" stroke-linejoin="round" stroke-linecap="round" />
<path d="M155.1,746.4 C155.9,743.9 158.7,736.3 160.1,731.2 C161.6,726.1 162.7,717.3 163.9,716.0 C165.2,714.7 166.3,720.2 167.7,723.6 C169.2,727.0 171.5,732.1 172.8,736.3 C174.1,740.5 174.5,745.8 175.3,748.9 C176.2,752.1 176.8,755.3 177.9,755.3 C178.9,755.3 180.4,751.3 181.7,748.9 C182.9,746.6 184.0,744.5 185.5,741.3 C186.9,738.2 189.3,730.6 190.5,729.9 C191.8,729.3 192.2,738.6 193.1,737.5 C193.9,736.5 194.5,724.2 195.6,723.6 C196.7,723.0 197.9,731.4 199.4,733.7 C200.9,736.1 202.8,736.5 204.5,737.5 C206.2,738.6 208.1,739.2 209.5,740.1 C211.0,740.9 212.1,743.0 213.3,742.6 C214.6,742.2 215.9,738.4 217.1,737.5 C218.4,736.7 219.9,737.1 220.9,737.5 C222.0,738.0 222.2,740.1 223.5,740.1 C224.7,740.1 226.9,738.2 228.5,737.5 C230.2,736.9 231.5,735.6 233.6,736.3 C235.7,736.9 239.1,740.9 241.2,741.3 C243.3,741.8 244.6,739.4 246.3,738.8 C248.0,738.2 249.7,736.9 251.3,737.5 C253.0,738.2 254.7,740.9 256.4,742.6 C258.1,744.3 259.4,747.0 261.5,747.7 C263.6,748.3 266.1,747.0 269.1,746.4 C272.0,745.8 275.8,744.5 279.2,743.9 C282.6,743.2 286.4,742.6 289.3,742.6 C292.3,742.6 294.8,743.3 296.9,743.9 C299.1,744.4 299.1,745.9 302.0,745.9 C305.0,745.9 310.0,744.0 314.7,743.9 C319.3,743.7 327.3,744.9 329.9,745.1" fill="none" stroke="#1ec8dc" stroke-width="2.3" stroke-linejoin="round" stroke-linecap="round" />
<path d="M155.1,746.4 C155.9,745.4 158.4,743.9 160.1,740.1 C161.8,736.3 163.7,725.5 165.2,723.6 C166.7,721.7 167.7,725.9 169.0,728.7 C170.3,731.4 171.3,738.0 172.8,740.1 C174.3,742.2 176.2,741.6 177.9,741.3 C179.6,741.1 181.2,741.8 182.9,738.8 C184.6,735.9 186.7,727.8 188.0,723.6 C189.3,719.4 189.7,713.9 190.5,713.5 C191.4,713.1 192.0,721.1 193.1,721.1 C194.1,721.1 195.6,714.3 196.9,713.5 C198.1,712.6 198.8,714.3 200.7,716.0 C202.6,717.7 205.7,721.5 208.3,723.6 C210.8,725.7 213.3,728.0 215.9,728.7 C218.4,729.3 221.4,727.8 223.5,727.4 C225.6,727.0 226.0,726.6 228.5,726.1 C231.1,725.7 235.7,726.1 238.7,724.9 C241.6,723.6 244.2,719.2 246.3,718.5 C248.4,717.9 249.2,719.6 251.3,721.1 C253.5,722.6 256.0,725.7 258.9,727.4 C261.9,729.1 266.1,730.2 269.1,731.2 C272.0,732.3 274.1,732.7 276.7,733.7 C279.2,734.8 281.7,736.3 284.3,737.5 C286.8,738.8 289.8,740.5 291.9,741.3 C294.0,742.2 295.3,742.2 296.9,742.6 C298.6,743.0 299.5,743.6 302.0,743.9 C304.5,744.2 308.8,745.2 312.1,744.4 C315.5,743.5 320.0,739.3 322.3,738.8 C324.6,738.3 324.8,740.7 326.1,741.3 C327.3,742.0 329.3,742.4 329.9,742.6" fill="none" stroke="#1c9c1c" stroke-width="2.3" stroke-linejoin="round" stroke-linecap="round" />
<path d="M155.1,746.4 C155.7,744.3 157.6,737.3 158.9,733.7 C160.1,730.2 161.4,726.1 162.7,724.9 C163.9,723.6 165.2,725.1 166.5,726.1 C167.7,727.2 169.0,729.9 170.3,731.2 C171.5,732.5 172.8,736.7 174.1,733.7 C175.3,730.8 176.6,718.8 177.9,713.5 C179.1,708.2 180.4,703.1 181.7,702.1 C182.9,701.0 184.2,704.8 185.5,707.1 C186.7,709.5 187.8,713.7 189.3,716.0 C190.7,718.3 192.4,719.8 194.3,721.1 C196.2,722.3 198.3,723.4 200.7,723.6 C203.0,723.8 205.7,722.3 208.3,722.3 C210.8,722.3 213.3,723.0 215.9,723.6 C218.4,724.2 220.9,725.5 223.5,726.1 C226.0,726.8 228.1,727.8 231.1,727.4 C234.0,727.0 237.8,723.6 241.2,723.6 C244.6,723.6 248.0,726.1 251.3,727.4 C254.7,728.7 258.1,729.9 261.5,731.2 C264.9,732.5 268.2,734.4 271.6,735.0 C275.0,735.6 278.4,735.0 281.7,735.0 C285.1,735.0 288.5,735.2 291.9,735.0 C295.3,734.8 298.6,734.0 302.0,733.7 C305.4,733.5 308.8,733.5 312.1,733.7 C315.5,734.0 319.3,734.7 322.3,735.0 C325.2,735.3 328.6,735.6 329.9,735.8" fill="none" stroke="#b4c81c" stroke-width="2.3" stroke-linejoin="round" stroke-linecap="round" />
<path d="M467.6,747.7 C468.2,747.3 470.1,747.0 471.4,745.1 C472.7,743.2 474.1,743.2 475.2,736.3 C476.3,729.3 477.0,716.4 477.7,703.3 C478.5,690.2 479.1,657.7 479.8,657.7 C480.4,657.7 481.1,690.7 481.8,703.3 C482.5,716.0 483.1,727.2 484.1,733.7 C485.1,740.3 486.4,740.9 487.9,742.6 C489.3,744.3 491.5,744.9 492.9,743.9 C494.4,742.8 495.7,740.9 496.7,736.3 C497.8,731.6 498.6,723.0 499.3,716.0 C500.0,709.0 500.4,694.9 501.0,694.5 C501.7,694.0 502.3,708.4 503.1,713.5 C503.8,718.5 504.5,721.7 505.6,724.9 C506.7,728.0 508.1,730.7 509.4,732.5 C510.7,734.3 511.7,735.8 513.2,735.8 C514.7,735.8 516.2,734.1 518.3,732.5 C520.4,730.9 522.9,727.6 525.9,726.1 C528.8,724.7 532.6,724.5 536.0,723.6 C539.4,722.8 543.7,722.6 546.1,721.1 C548.6,719.6 549.4,714.7 550.7,714.7 C552.0,714.7 552.0,719.6 553.7,721.1 C555.5,722.6 558.4,723.0 561.3,723.6 C564.3,724.2 568.5,724.2 571.5,724.9 C574.4,725.5 576.5,727.0 579.1,727.4 C581.6,727.8 583.7,726.6 586.7,727.4 C589.6,728.3 593.4,731.2 596.8,732.5 C600.2,733.7 603.6,734.2 606.9,735.0 C610.3,735.9 613.7,736.5 617.1,737.5 C620.5,738.6 623.4,740.3 627.2,741.3 C631.0,742.4 637.8,743.5 639.9,743.9" fill="none" stroke="#f01c1c" stroke-width="2.15" stroke-linejoin="round" stroke-linecap="round" />
<path d="M467.6,747.7 C468.2,747.4 470.1,747.6 471.4,745.9 C472.7,744.2 474.1,742.5 475.2,737.5 C476.3,732.6 477.1,722.6 477.7,716.0 C478.4,709.5 478.7,698.3 479.3,698.3 C479.8,698.3 480.5,709.5 481.3,716.0 C482.1,722.6 483.0,732.9 484.1,737.5 C485.2,742.2 486.4,742.7 487.9,743.9 C489.3,745.0 491.3,745.0 492.9,744.4 C494.5,743.7 496.2,743.1 497.5,740.1 C498.8,737.0 499.5,729.9 500.5,726.1 C501.6,722.3 502.7,720.2 503.6,717.3 C504.4,714.3 504.8,706.9 505.6,708.4 C506.4,709.9 507.1,721.9 508.1,726.1 C509.2,730.4 510.7,732.1 511.9,733.7 C513.2,735.3 514.3,736.2 515.7,735.8 C517.2,735.3 518.7,732.6 520.8,731.2 C522.9,729.8 525.5,728.5 528.4,727.4 C531.4,726.4 535.6,725.5 538.5,724.9 C541.5,724.2 544.1,724.2 546.1,723.6 C548.2,723.0 549.0,721.1 550.7,721.1 C552.4,721.1 553.7,722.6 556.3,723.6 C558.9,724.7 563.5,725.9 566.4,727.4 C569.4,728.9 571.5,732.3 574.0,732.5 C576.5,732.7 579.1,729.5 581.6,728.7 C584.1,727.8 586.7,726.8 589.2,727.4 C591.7,728.0 593.9,731.1 596.8,732.5 C599.8,733.9 603.6,734.7 606.9,735.8 C610.3,736.8 613.7,737.8 617.1,738.8 C620.5,739.8 623.4,740.9 627.2,741.8 C631.0,742.8 637.8,744.0 639.9,744.4" fill="none" stroke="#f01c1c" stroke-width="2.15" stroke-linejoin="round" stroke-linecap="round" />
<path d="M467.6,747.7 C468.2,747.4 470.1,747.6 471.4,745.9 C472.7,744.2 474.1,741.3 475.2,737.5 C476.3,733.8 477.0,723.8 477.7,723.6 C478.5,723.4 478.8,736.7 479.5,736.3 C480.2,735.9 481.0,721.1 481.8,721.1 C482.5,721.1 483.1,732.7 484.1,736.3 C485.1,739.9 486.4,741.3 487.9,742.6 C489.3,743.9 491.2,744.7 492.9,743.9 C494.6,743.0 496.5,740.9 498.0,737.5 C499.5,734.2 500.5,727.2 501.8,723.6 C503.1,720.0 504.5,715.4 505.6,716.0 C506.7,716.6 507.4,724.2 508.6,727.4 C509.9,730.6 511.2,734.4 513.2,735.0 C515.2,735.6 517.8,732.7 520.8,731.2 C523.8,729.7 527.6,727.4 530.9,726.1 C534.3,724.9 538.1,724.2 541.1,723.6 C544.0,723.0 547.0,721.5 548.7,722.3 C550.4,723.2 549.9,728.3 551.2,728.7 C552.5,729.1 553.7,724.9 556.3,724.9 C558.8,724.9 563.7,727.6 566.4,728.7 C569.2,729.7 570.2,731.4 572.7,731.2 C575.3,731.0 578.4,727.6 581.6,727.4 C584.8,727.2 588.4,728.8 591.7,729.9 C595.1,731.1 598.5,733.1 601.9,734.2 C605.3,735.4 608.2,735.8 612.0,736.8 C615.8,737.8 620.0,739.0 624.7,740.1 C629.3,741.2 637.3,742.8 639.9,743.4" fill="none" stroke="#f01c1c" stroke-width="2.15" stroke-linejoin="round" stroke-linecap="round" />
<path d="M467.6,747.7 C468.2,747.4 470.0,747.4 471.4,745.9 C472.8,744.4 474.6,742.1 475.7,738.8 C476.8,735.5 477.5,729.9 478.2,726.1 C479.0,722.3 479.5,714.5 480.3,716.0 C481.0,717.5 481.7,730.8 482.8,735.0 C483.9,739.2 484.9,740.1 486.6,741.3 C488.3,742.6 491.0,743.5 492.9,742.6 C494.8,741.8 496.3,739.9 498.0,736.3 C499.7,732.7 501.7,725.5 503.1,721.1 C504.4,716.6 505.1,708.6 506.1,709.7 C507.2,710.7 508.0,723.4 509.4,727.4 C510.8,731.4 512.1,733.5 514.5,733.7 C516.8,734.0 519.8,730.2 523.3,728.7 C526.9,727.2 531.8,725.9 536.0,724.9 C540.2,723.8 546.1,722.6 548.7,722.3 C551.2,722.1 549.1,723.0 551.2,723.6 C553.3,724.2 558.0,725.9 561.3,726.1 C564.7,726.4 568.1,724.7 571.5,724.9 C574.9,725.1 578.2,726.4 581.6,727.4 C585.0,728.5 588.4,730.1 591.7,731.2 C595.1,732.3 598.1,733.2 601.9,734.2 C605.7,735.3 610.3,736.4 614.5,737.5 C618.8,738.6 623.0,739.8 627.2,740.8 C631.4,741.9 637.8,743.4 639.9,743.9" fill="none" stroke="#f01c1c" stroke-width="2.15" stroke-linejoin="round" stroke-linecap="round" />
<path d="M467.6,747.7 C468.2,747.3 470.1,747.0 471.4,745.1 C472.7,743.2 474.1,742.4 475.2,736.3 C476.3,730.2 477.0,710.5 477.7,708.4 C478.5,706.3 479.0,719.8 479.8,723.6 C480.5,727.4 481.4,728.5 482.3,731.2 C483.2,734.0 484.0,738.0 485.3,740.1 C486.7,742.2 488.5,744.1 490.4,743.9 C492.3,743.7 495.0,744.3 496.7,738.8 C498.4,733.3 499.3,713.5 500.5,710.9 C501.8,708.4 503.1,720.0 504.3,723.6 C505.6,727.2 506.4,730.6 508.1,732.5 C509.8,734.4 511.9,735.4 514.5,735.0 C517.0,734.6 519.8,731.5 523.3,729.9 C526.9,728.4 532.2,726.7 536.0,725.6 C539.8,724.6 543.6,723.5 546.1,723.6 C548.7,723.7 548.7,725.5 551.2,726.1 C553.7,726.8 558.0,726.8 561.3,727.4 C564.7,728.0 568.1,729.9 571.5,729.9 C574.9,729.9 578.2,727.3 581.6,727.4 C585.0,727.5 587.9,729.6 591.7,730.7 C595.5,731.8 600.2,733.0 604.4,734.2 C608.6,735.5 612.9,737.0 617.1,738.3 C621.3,739.6 625.9,740.8 629.7,741.8 C633.5,742.9 638.2,744.0 639.9,744.4" fill="none" stroke="#f01c1c" stroke-width="2.15" stroke-linejoin="round" stroke-linecap="round" />
<path d="M153.8,892.7 C154.9,892.5 158.4,892.3 160.1,891.4 C161.8,890.6 162.9,888.7 163.9,887.6 C165.0,886.6 165.4,884.9 166.5,885.1 C167.5,885.3 168.8,887.8 170.3,888.9 C171.7,889.9 173.6,891.0 175.3,891.4 C177.0,891.8 178.9,893.5 180.4,891.4 C181.9,889.3 183.1,884.2 184.2,878.7 C185.3,873.3 185.9,865.2 186.7,858.5 C187.6,851.7 188.4,842.6 189.3,838.2 C190.1,833.8 191.0,832.3 191.8,831.9 C192.6,831.4 193.5,833.3 194.3,835.7 C195.2,838.0 195.8,843.7 196.9,845.8 C197.9,847.9 199.2,848.3 200.7,848.3 C202.1,848.3 203.8,847.5 205.7,845.8 C207.6,844.1 210.0,839.7 212.1,838.2 C214.2,836.7 216.1,838.4 218.4,836.9 C220.7,835.5 223.1,830.2 226.0,829.3 C229.0,828.5 232.8,832.3 236.1,831.9 C239.5,831.4 243.7,827.4 246.3,826.8 C248.8,826.2 249.7,826.8 251.3,828.1 C253.0,829.3 254.7,832.5 256.4,834.4 C258.1,836.3 259.6,838.9 261.5,839.5 C263.4,840.0 265.7,837.3 267.8,837.7 C269.9,838.1 272.2,839.8 274.1,842.0 C276.0,844.2 277.5,847.7 279.2,850.9 C280.9,854.0 282.2,857.6 284.3,861.0 C286.4,864.4 288.9,868.2 291.9,871.1 C294.8,874.1 298.6,876.8 302.0,878.7 C305.4,880.6 308.8,881.5 312.1,882.5 C315.5,883.6 319.7,884.4 322.3,885.1 C324.8,885.7 326.5,886.1 327.3,886.3" fill="none" stroke="#1414f0" stroke-width="2.3" stroke-linejoin="round" stroke-linecap="round" />
<path d="M153.8,892.7 C154.9,891.8 158.4,892.0 160.1,887.6 C161.8,883.2 162.9,873.9 163.9,866.1 C165.0,858.3 165.6,847.9 166.5,840.7 C167.3,833.6 168.2,823.8 169.0,823.0 C169.8,822.2 170.7,830.6 171.5,835.7 C172.4,840.7 173.0,847.9 174.1,853.4 C175.1,858.9 176.8,867.3 177.9,868.6 C178.9,869.9 179.6,864.8 180.4,861.0 C181.2,857.2 182.1,847.5 182.9,845.8 C183.8,844.1 184.4,849.2 185.5,850.9 C186.5,852.6 187.2,854.9 189.3,855.9 C191.4,857.0 195.0,856.8 198.1,857.2 C201.3,857.6 205.3,858.1 208.3,858.5 C211.2,858.9 212.9,859.7 215.9,859.7 C218.8,859.7 222.6,858.9 226.0,858.5 C229.4,858.1 233.2,857.8 236.1,857.2 C239.1,856.6 241.2,854.7 243.7,854.7 C246.3,854.7 248.4,856.2 251.3,857.2 C254.3,858.3 258.1,859.1 261.5,861.0 C264.9,862.9 268.2,866.1 271.6,868.6 C275.0,871.1 278.4,874.3 281.7,876.2 C285.1,878.1 288.5,879.0 291.9,880.0 C295.3,881.1 298.2,881.9 302.0,882.5 C305.8,883.2 310.5,883.2 314.7,883.8 C318.9,884.4 325.2,885.9 327.3,886.3" fill="none" stroke="#1ec8dc" stroke-width="2.3" stroke-linejoin="round" stroke-linecap="round" />
<path d="M153.8,893.4 C155.1,893.5 159.1,894.7 161.4,893.9 C163.7,893.2 165.8,891.0 167.7,888.9 C169.6,886.8 171.7,879.8 172.8,881.3 C173.9,882.8 173.4,896.9 174.1,897.7 C174.7,898.6 175.8,891.6 176.6,886.3 C177.4,881.1 178.3,871.1 179.1,866.1 C180.0,861.0 180.6,857.0 181.7,855.9 C182.7,854.9 184.0,858.1 185.5,859.7 C186.9,861.4 188.8,865.4 190.5,866.1 C192.2,866.7 193.9,862.7 195.6,863.5 C197.3,864.4 198.6,867.8 200.7,871.1 C202.8,874.5 205.3,881.1 208.3,883.8 C211.2,886.6 215.5,887.2 218.4,887.6 C221.4,888.0 223.5,886.2 226.0,886.3 C228.5,886.5 231.1,888.4 233.6,888.4 C236.1,888.4 239.1,887.3 241.2,886.3 C243.3,885.4 244.8,882.5 246.3,882.5 C247.8,882.5 248.4,885.7 250.1,886.3 C251.8,887.0 254.5,886.6 256.4,886.3 C258.3,886.1 259.8,884.9 261.5,885.1 C263.2,885.3 264.9,888.7 266.5,887.6 C268.2,886.6 270.3,881.1 271.6,878.7 C272.9,876.4 273.3,873.5 274.1,873.7 C275.0,873.9 275.4,878.3 276.7,880.0 C277.9,881.7 279.2,882.8 281.7,883.8 C284.3,884.9 288.5,885.7 291.9,886.3 C295.3,887.0 299.5,887.6 302.0,887.6 C304.5,887.6 305.0,886.3 307.1,886.3 C309.2,886.3 311.3,887.1 314.7,887.6 C318.1,888.1 325.2,889.1 327.3,889.4" fill="none" stroke="#f01c1c" stroke-width="2.3" stroke-linejoin="round" stroke-linecap="round" />
<path d="M153.8,892.7 C154.9,891.2 158.2,888.2 160.1,883.8 C162.0,879.4 163.9,871.4 165.2,866.1 C166.5,860.8 166.7,853.4 167.7,852.1 C168.8,850.9 170.3,854.9 171.5,858.5 C172.8,862.1 173.9,869.7 175.3,873.7 C176.8,877.7 178.9,883.8 180.4,882.5 C181.9,881.3 182.9,866.7 184.2,866.1 C185.5,865.4 186.7,876.2 188.0,878.7 C189.3,881.3 189.3,881.3 191.8,881.3 C194.3,881.3 200.0,881.5 203.2,878.7 C206.4,876.0 208.7,865.7 210.8,864.8 C212.9,864.0 213.8,871.6 215.9,873.7 C218.0,875.8 220.9,876.0 223.5,877.5 C226.0,879.0 228.5,882.8 231.1,882.5 C233.6,882.3 235.7,878.3 238.7,876.2 C241.6,874.1 246.3,869.9 248.8,869.9 C251.3,869.9 252.2,874.5 253.9,876.2 C255.6,877.9 256.4,879.0 258.9,880.0 C261.5,881.1 265.3,881.9 269.1,882.5 C272.9,883.2 277.9,883.5 281.7,883.8 C285.5,884.1 288.5,884.3 291.9,884.3 C295.3,884.3 298.6,884.1 302.0,883.8 C305.4,883.5 308.8,883.2 312.1,882.5 C315.5,881.9 319.7,880.4 322.3,880.0 C324.8,879.6 326.5,880.0 327.3,880.0" fill="none" stroke="#1c9c1c" stroke-width="2.3" stroke-linejoin="round" stroke-linecap="round" />
<path d="M153.8,893.4 C154.9,893.5 158.4,896.8 160.1,893.9 C161.8,891.1 162.7,883.0 163.9,876.2 C165.2,869.5 166.7,856.6 167.7,853.4 C168.8,850.2 169.4,858.1 170.3,857.2 C171.1,856.4 172.0,849.0 172.8,848.3 C173.6,847.7 174.5,850.0 175.3,853.4 C176.2,856.8 176.6,864.8 177.9,868.6 C179.1,872.4 181.2,874.1 182.9,876.2 C184.6,878.3 186.3,881.9 188.0,881.3 C189.7,880.6 191.0,874.1 193.1,872.4 C195.2,870.7 197.7,872.2 200.7,871.1 C203.6,870.1 207.4,866.9 210.8,866.1 C214.2,865.2 217.6,865.2 220.9,866.1 C224.3,866.9 227.7,871.2 231.1,871.1 C234.5,871.1 237.8,866.2 241.2,865.6 C244.6,864.9 248.0,867.3 251.3,867.3 C254.7,867.4 258.5,865.0 261.5,866.1 C264.4,867.1 266.5,870.9 269.1,873.7 C271.6,876.4 274.1,879.8 276.7,882.5 C279.2,885.3 281.3,888.5 284.3,890.1 C287.2,891.8 290.6,892.0 294.4,892.7 C298.2,893.4 301.6,894.5 307.1,894.5 C312.6,894.5 324.0,893.0 327.3,892.7" fill="none" stroke="#b4c81c" stroke-width="2.3" stroke-linejoin="round" stroke-linecap="round" />
<path d="M467.6,893.9 C468.9,893.9 473.1,894.2 475.2,893.9 C477.3,893.7 478.6,894.8 480.3,892.7 C482.0,890.6 484.2,888.2 485.3,881.3 C486.5,874.3 486.6,854.7 487.4,850.9 C488.1,847.1 488.8,853.0 489.9,858.5 C491.0,864.0 492.4,878.7 494.2,883.8 C496.0,888.9 497.8,887.8 500.5,888.9 C503.3,889.9 506.9,890.1 510.7,890.1 C514.5,890.1 519.1,889.1 523.3,888.9 C527.6,888.7 532.6,889.1 536.0,888.9 C539.4,888.7 541.5,887.2 543.6,887.6 C545.7,888.0 545.7,890.6 548.7,891.4 C551.6,892.3 557.5,892.7 561.3,892.7 C565.1,892.7 568.1,892.9 571.5,891.4 C574.9,889.9 579.1,887.4 581.6,883.8 C584.1,880.2 585.0,870.7 586.7,869.9 C588.4,869.0 589.2,876.0 591.7,878.7 C594.3,881.5 598.5,885.1 601.9,886.3 C605.3,887.6 609.3,887.4 612.0,886.3 C614.8,885.3 616.2,880.0 618.3,880.0 C620.5,880.0 621.5,884.2 624.7,886.3 C627.8,888.5 635.2,891.6 637.3,892.7" fill="none" stroke="#f01c1c" stroke-width="2.15" stroke-linejoin="round" stroke-linecap="round" />
<path d="M467.6,893.9 C469.3,893.9 474.8,895.2 477.7,893.9 C480.7,892.7 483.6,890.1 485.3,886.3 C487.0,882.5 486.8,875.4 487.9,871.1 C488.9,866.9 490.6,863.3 491.7,861.0 C492.7,858.7 493.1,857.4 494.2,857.2 C495.3,857.0 496.5,857.8 498.0,859.7 C499.5,861.6 501.0,865.4 503.1,868.6 C505.2,871.8 507.7,875.8 510.7,878.7 C513.6,881.7 516.6,884.4 520.8,886.3 C525.0,888.2 531.4,889.1 536.0,890.1 C540.7,891.2 544.5,892.9 548.7,892.7 C552.9,892.5 558.4,890.6 561.3,888.9 C564.3,887.2 564.7,882.5 566.4,882.5 C568.1,882.5 569.4,887.4 571.5,888.9 C573.6,890.4 576.5,891.8 579.1,891.4 C581.6,891.0 583.3,887.4 586.7,886.3 C590.1,885.3 595.1,884.7 599.3,885.1 C603.6,885.5 605.7,887.4 612.0,888.9 C618.3,890.4 633.1,893.1 637.3,893.9" fill="none" stroke="#f01c1c" stroke-width="2.15" stroke-linejoin="round" stroke-linecap="round" />
<path d="M467.6,893.9 C469.7,893.9 477.1,894.4 480.3,893.9 C483.4,893.5 484.9,892.7 486.6,891.4 C488.3,890.1 488.9,888.5 490.4,886.3 C491.9,884.2 493.6,881.7 495.5,878.7 C497.4,875.8 500.1,870.8 501.8,868.6 C503.5,866.4 504.3,865.8 505.6,865.6 C506.9,865.4 507.7,865.1 509.4,867.3 C511.1,869.5 513.0,875.4 515.7,878.7 C518.5,882.1 522.5,885.1 525.9,887.6 C529.3,890.1 533.1,893.5 536.0,893.9 C539.0,894.4 541.1,891.4 543.6,890.1 C546.1,888.9 549.1,886.3 551.2,886.3 C553.3,886.3 553.7,888.2 556.3,890.1 C558.8,892.0 563.5,897.1 566.4,897.7 C569.4,898.4 571.5,895.6 574.0,893.9 C576.5,892.3 579.5,891.2 581.6,887.6 C583.7,884.0 584.1,872.8 586.7,872.4 C589.2,872.0 592.6,882.3 596.8,885.1 C601.0,887.8 605.3,887.4 612.0,888.9 C618.8,890.4 633.1,893.1 637.3,893.9" fill="none" stroke="#f01c1c" stroke-width="2.15" stroke-linejoin="round" stroke-linecap="round" />
<path d="M467.6,893.9 C469.7,893.9 477.0,894.6 480.3,893.9 C483.6,893.3 485.3,891.4 487.4,890.1 C489.5,888.9 490.7,888.7 492.9,886.3 C495.1,884.0 498.0,879.2 500.5,876.2 C503.1,873.3 506.0,869.5 508.1,868.6 C510.2,867.8 510.7,870.1 513.2,871.1 C515.7,872.2 519.5,873.9 523.3,874.9 C527.1,876.0 531.8,876.6 536.0,877.5 C540.2,878.3 544.5,879.5 548.7,880.0 C552.9,880.6 558.4,880.6 561.3,880.8 C564.3,881.0 564.7,881.4 566.4,881.3 C568.1,881.1 569.4,879.6 571.5,880.0 C573.6,880.4 576.5,884.9 579.1,883.8 C581.6,882.8 584.1,874.3 586.7,873.7 C589.2,873.0 591.3,878.3 594.3,880.0 C597.2,881.7 600.6,883.6 604.4,883.8 C608.2,884.0 613.7,881.1 617.1,881.3 C620.5,881.5 621.3,883.4 624.7,885.1 C628.1,886.8 635.2,890.4 637.3,891.4" fill="none" stroke="#f01c1c" stroke-width="2.15" stroke-linejoin="round" stroke-linecap="round" />
<path d="M467.6,893.9 C469.7,893.9 477.1,892.4 480.3,893.4 C483.4,894.5 485.3,901.9 486.6,900.3 C487.9,898.7 486.8,885.7 487.9,883.8 C488.9,881.9 490.8,888.7 492.9,888.9 C495.0,889.1 498.2,887.2 500.5,885.1 C502.9,883.0 505.2,876.4 506.9,876.2 C508.6,876.0 509.2,881.9 510.7,883.8 C512.1,885.7 513.2,887.2 515.7,887.6 C518.3,888.0 522.9,885.7 525.9,886.3 C528.8,887.0 531.8,889.7 533.5,891.4 C535.2,893.1 533.9,896.9 536.0,896.5 C538.1,896.1 543.2,890.6 546.1,888.9 C549.1,887.2 551.2,887.0 553.7,886.3 C556.3,885.7 558.4,885.9 561.3,885.1 C564.3,884.2 567.7,882.3 571.5,881.3 C575.3,880.2 580.3,878.3 584.1,878.7 C587.9,879.2 589.6,882.5 594.3,883.8 C598.9,885.1 608.2,886.1 612.0,886.3 C615.8,886.6 612.9,883.8 617.1,885.1 C621.3,886.3 634.0,892.5 637.3,893.9" fill="none" stroke="#f01c1c" stroke-width="2.15" stroke-linejoin="round" stroke-linecap="round" />
<text x="138.6" y="365.6" font-size="18.5" textLength="10.3" lengthAdjust="spacingAndGlyphs" >1</text>
<text x="141.4" y="512.0" font-size="18.5" textLength="10.3" lengthAdjust="spacingAndGlyphs" >1</text>
<text x="141.2" y="658.2" font-size="18.5" textLength="10.3" lengthAdjust="spacingAndGlyphs" >1</text>
<text x="141.1" y="802.4" font-size="18.5" textLength="10.3" lengthAdjust="spacingAndGlyphs" >1</text>
<text x="139.1" y="453.6" font-size="18.5" textLength="11.6" lengthAdjust="spacingAndGlyphs" >0</text>
<text x="141.7" y="607.8" font-size="18.5" textLength="11.6" lengthAdjust="spacingAndGlyphs" >0</text>
<text x="138.8" y="754.4" font-size="18.5" textLength="11.6" lengthAdjust="spacingAndGlyphs" >0</text>
<text x="139.1" y="898.3" font-size="18.5" textLength="11.6" lengthAdjust="spacingAndGlyphs" >0</text>
<text x="148.4" y="411.6" font-size="21.5" text-anchor="middle" textLength="30.5" lengthAdjust="spacingAndGlyphs" transform="rotate(-90 148.4 411.6)" >AU</text>
<text x="148.8" y="560.6" font-size="21.5" text-anchor="middle" textLength="30.5" lengthAdjust="spacingAndGlyphs" transform="rotate(-90 148.8 560.6)" >AU</text>
<text x="148.3" y="707.5" font-size="21.5" text-anchor="middle" textLength="30.5" lengthAdjust="spacingAndGlyphs" transform="rotate(-90 148.3 707.5)" >AU</text>
<text x="147.5" y="854.0" font-size="21.5" text-anchor="middle" textLength="30.5" lengthAdjust="spacingAndGlyphs" transform="rotate(-90 147.5 854.0)" >AU</text>
<text x="60.8" y="455.2" font-size="18.4" textLength="59.5" lengthAdjust="spacingAndGlyphs" >odor 1</text>
<text x="62.2" y="589.7" font-size="18.4" textLength="59.5" lengthAdjust="spacingAndGlyphs" >odor 2</text>
<text x="59.7" y="718.7" font-size="18.4" textLength="59.5" lengthAdjust="spacingAndGlyphs" >odor 3</text>
<text x="60.6" y="850.1" font-size="18.4" textLength="59.5" lengthAdjust="spacingAndGlyphs" >odor 4</text>
<text x="153.9" y="942.3" font-size="18" text-anchor="middle" >0</text>
<text x="239.8" y="942.3" font-size="18" text-anchor="middle" >1</text>
<text x="325.3" y="942.3" font-size="18" text-anchor="middle" >2</text>
<text x="241.9" y="957.3" font-size="19" text-anchor="middle" >s</text>
<text x="465.7" y="944.9" font-size="18" text-anchor="middle" >0</text>
<text x="549.8" y="944.9" font-size="18" text-anchor="middle" >1</text>
<text x="637.6" y="944.9" font-size="18" text-anchor="middle" >2</text>
<text x="551.3" y="959.2" font-size="19" text-anchor="middle" >s</text>
<text x="288.6" y="367.6" font-size="18.4" textLength="107.5" lengthAdjust="spacingAndGlyphs" >5 KC types,</text>
<text x="288.6" y="391.0" font-size="18.4" textLength="129.5" lengthAdjust="spacingAndGlyphs" >one individual</text>
<text x="288.6" y="413.6" font-size="18.4" textLength="45.5" lengthAdjust="spacingAndGlyphs" >each</text>
<text x="575.8" y="368.5" font-size="18.4" textLength="153.5" lengthAdjust="spacingAndGlyphs" >5 KC individuals</text>
<text x="575.8" y="391.3" font-size="18.4" textLength="108.0" lengthAdjust="spacingAndGlyphs" >of one type</text>
<text x="26.0" y="981.5" font-size="43.5" textLength="31.0" lengthAdjust="spacingAndGlyphs" >C</text>
<polyline points="102.6,1037.0 112.8,1067.9 122.9,1106.6 133.1,1129.9 143.2,1136.1 153.4,1137.6 163.6,1137.6" fill="none" stroke="#f89a9a" stroke-width="1.2" stroke-linejoin="round" stroke-linecap="round" />
<polyline points="102.6,1047.8 112.8,1046.3 122.9,1091.2 133.1,1125.2 143.2,1134.5 153.4,1137.6 163.6,1137.6" fill="none" stroke="#f89a9a" stroke-width="1.2" stroke-linejoin="round" stroke-linecap="round" />
<polyline points="102.6,1057.1 112.8,1052.5 122.9,1080.3 133.1,1114.4 143.2,1133.0 153.4,1137.6 163.6,1137.6" fill="none" stroke="#f89a9a" stroke-width="1.2" stroke-linejoin="round" stroke-linecap="round" />
<polyline points="102.6,1063.3 112.8,1060.2 122.9,1098.9 133.1,1122.1 143.2,1134.5 153.4,1137.6 163.6,1137.6" fill="none" stroke="#f89a9a" stroke-width="1.2" stroke-linejoin="round" stroke-linecap="round" />
<polyline points="102.6,1067.9 112.8,1072.6 122.9,1103.5 133.1,1128.3 143.2,1136.1 153.4,1137.6 163.6,1137.6" fill="none" stroke="#f89a9a" stroke-width="1.2" stroke-linejoin="round" stroke-linecap="round" />
<polyline points="102.6,1075.7 112.8,1063.3 122.9,1086.5 133.1,1119.0 143.2,1133.0 153.4,1137.6 163.6,1137.6" fill="none" stroke="#f89a9a" stroke-width="1.2" stroke-linejoin="round" stroke-linecap="round" />
<polyline points="102.6,1083.4 112.8,1057.1 122.9,1094.3 133.1,1123.7 143.2,1134.5 153.4,1137.6 163.6,1137.6" fill="none" stroke="#f89a9a" stroke-width="1.2" stroke-linejoin="round" stroke-linecap="round" />
<polyline points="102.6,1052.5 112.8,1078.8 122.9,1114.4 133.1,1131.4 143.2,1137.6 153.4,1137.6" fill="none" stroke="#f89a9a" stroke-width="1.2" stroke-linejoin="round" stroke-linecap="round" />
<polyline points="102.6,1091.2 112.8,1067.9 122.9,1083.4 133.1,1106.6 143.2,1129.9 153.4,1136.1 163.6,1137.6 173.7,1137.6" fill="none" stroke="#f89a9a" stroke-width="1.2" stroke-linejoin="round" stroke-linecap="round" />
<polyline points="102.6,1098.9 112.8,1075.7 122.9,1091.2 133.1,1115.9 143.2,1131.4 153.4,1137.6 163.6,1137.6" fill="none" stroke="#f89a9a" stroke-width="1.2" stroke-linejoin="round" stroke-linecap="round" />
<polyline points="102.6,1106.6 112.8,1083.4 122.9,1098.9 133.1,1119.0 143.2,1133.0 153.4,1137.6 163.6,1137.6" fill="none" stroke="#f89a9a" stroke-width="1.2" stroke-linejoin="round" stroke-linecap="round" />
<polyline points="102.6,1137.6 112.8,1094.3 122.9,1109.7 133.1,1128.3 143.2,1136.1 153.4,1137.6 163.6,1137.6" fill="none" stroke="#f89a9a" stroke-width="1.2" stroke-linejoin="round" stroke-linecap="round" />
<polyline points="102.6,1078.8 112.8,1069.5 122.9,1091.2 133.1,1106.6 143.2,1119.0 153.4,1123.7 163.6,1126.8 173.7,1129.9 183.9,1133.0 194.0,1135.3 204.2,1137.6 214.4,1137.6" fill="none" stroke="#f89a9a" stroke-width="1.2" stroke-linejoin="round" stroke-linecap="round" />
<polyline points="102.6,1060.2 112.8,1064.8 122.9,1119.0 133.1,1133.0 143.2,1137.6 153.4,1137.6" fill="none" stroke="#f89a9a" stroke-width="1.2" stroke-linejoin="round" stroke-linecap="round" />
<polyline points="102.6,1072.6 112.8,1081.9 122.9,1125.2 133.1,1134.5 143.2,1137.6 153.4,1137.6" fill="none" stroke="#f89a9a" stroke-width="1.2" stroke-linejoin="round" stroke-linecap="round" />
<polyline points="102.6,1044.7 112.8,1060.2 122.9,1097.4 133.1,1131.4 143.2,1137.6 153.4,1137.6" fill="none" stroke="#f89a9a" stroke-width="1.2" stroke-linejoin="round" stroke-linecap="round" />
<polyline points="102.6,1137.6 112.8,1137.6 122.9,1136.9 133.1,1128.4 143.2,1118.6 153.4,1118.7 163.6,1118.8 173.7,1106.7 183.9,1114.5 194.0,1122.0 204.2,1125.9 214.4,1131.9 224.5,1132.7 234.7,1136.9 244.8,1137.6" fill="none" stroke="#a8a8a8" stroke-width="1.0" stroke-linejoin="round" stroke-linecap="round" />
<polyline points="102.6,1137.6 112.8,1137.6 122.9,1136.8 133.1,1126.6 143.2,1119.3 153.4,1111.0 163.6,1103.9 173.7,1112.6 183.9,1112.6 194.0,1120.0 204.2,1125.5 214.4,1132.3 224.5,1133.9 234.7,1136.8 244.8,1137.6" fill="none" stroke="#a8a8a8" stroke-width="1.0" stroke-linejoin="round" stroke-linecap="round" />
<polyline points="102.6,1137.6 112.8,1137.6 122.9,1133.9 133.1,1128.1 143.2,1123.8 153.4,1117.4 163.6,1103.6 173.7,1108.0 183.9,1113.0 194.0,1117.6 204.2,1129.8 214.4,1135.1 224.5,1137.2 234.7,1137.0 244.8,1137.6" fill="none" stroke="#a8a8a8" stroke-width="1.0" stroke-linejoin="round" stroke-linecap="round" />
<polyline points="102.6,1137.6 112.8,1137.6 122.9,1137.6 133.1,1127.4 143.2,1123.7 153.4,1108.2 163.6,1107.9 173.7,1112.6 183.9,1117.6 194.0,1119.0 204.2,1126.2 214.4,1132.5 224.5,1134.9 234.7,1136.9 244.8,1137.6" fill="none" stroke="#a8a8a8" stroke-width="1.0" stroke-linejoin="round" stroke-linecap="round" />
<polyline points="102.6,1137.6 112.8,1137.6 122.9,1134.4 133.1,1131.1 143.2,1120.2 153.4,1112.0 163.6,1119.0 173.7,1115.1 183.9,1109.6 194.0,1116.3 204.2,1130.5 214.4,1132.2 224.5,1135.0 234.7,1137.0 244.8,1137.6" fill="none" stroke="#a8a8a8" stroke-width="1.0" stroke-linejoin="round" stroke-linecap="round" />
<polyline points="102.6,1137.6 112.8,1137.6 122.9,1137.4 133.1,1131.5 143.2,1119.8 153.4,1114.4 163.6,1107.0 173.7,1112.3 183.9,1115.8 194.0,1120.0 204.2,1125.5 214.4,1132.2 224.5,1137.6 234.7,1137.0 244.8,1137.6" fill="none" stroke="#a8a8a8" stroke-width="1.0" stroke-linejoin="round" stroke-linecap="round" />
<polyline points="102.6,1137.6 112.8,1137.6 122.9,1132.8 133.1,1132.7 143.2,1127.1 153.4,1111.7 163.6,1110.4 173.7,1104.8 183.9,1117.5 194.0,1111.8 204.2,1123.3 214.4,1134.2 224.5,1132.9 234.7,1136.8 244.8,1137.6" fill="none" stroke="#a8a8a8" stroke-width="1.0" stroke-linejoin="round" stroke-linecap="round" />
<polyline points="102.6,1137.6 112.8,1137.6 122.9,1137.6 133.1,1131.8 143.2,1118.0 153.4,1112.8 163.6,1109.4 173.7,1105.1 183.9,1116.6 194.0,1119.2 204.2,1128.8 214.4,1130.6 224.5,1135.8 234.7,1137.0 244.8,1137.6" fill="none" stroke="#a8a8a8" stroke-width="1.0" stroke-linejoin="round" stroke-linecap="round" />
<polyline points="102.6,1137.6 112.8,1137.6 122.9,1133.9 133.1,1133.9 143.2,1125.5 153.4,1121.6 163.6,1114.0 173.7,1114.0 183.9,1110.5 194.0,1118.9 204.2,1131.8 214.4,1132.5 224.5,1137.0 234.7,1136.9 244.8,1137.6" fill="none" stroke="#a8a8a8" stroke-width="1.0" stroke-linejoin="round" stroke-linecap="round" />
<polyline points="102.6,1137.6 112.8,1137.6 122.9,1136.6 133.1,1129.4 143.2,1119.5 153.4,1116.4 163.6,1112.4 173.7,1114.0 183.9,1110.9 194.0,1119.8 204.2,1126.0 214.4,1130.0 224.5,1137.6 234.7,1136.9 244.8,1137.6" fill="none" stroke="#a8a8a8" stroke-width="1.0" stroke-linejoin="round" stroke-linecap="round" />
<polyline points="102.6,1137.6 112.8,1137.6 122.9,1137.6 133.1,1131.7 143.2,1121.9 153.4,1118.3 163.6,1114.7 173.7,1113.7 183.9,1113.8 194.0,1119.9 204.2,1130.7 214.4,1130.7 224.5,1137.6 234.7,1136.9 244.8,1137.6" fill="none" stroke="#a8a8a8" stroke-width="1.0" stroke-linejoin="round" stroke-linecap="round" />
<polyline points="102.6,1137.6 112.8,1137.6 122.9,1137.6 133.1,1127.8 143.2,1118.9 153.4,1117.2 163.6,1111.2 173.7,1109.5 183.9,1117.3 194.0,1121.9 204.2,1130.6 214.4,1131.6 224.5,1131.5 234.7,1137.0 244.8,1137.6" fill="none" stroke="#a8a8a8" stroke-width="1.0" stroke-linejoin="round" stroke-linecap="round" />
<polyline points="102.6,1137.6 112.8,1137.6 122.9,1137.6 133.1,1129.7 143.2,1123.4 153.4,1119.6 163.6,1107.2 173.7,1111.9 183.9,1111.0 194.0,1117.1 204.2,1128.1 214.4,1129.5 224.5,1134.4 234.7,1136.9 244.8,1137.6" fill="none" stroke="#a8a8a8" stroke-width="1.0" stroke-linejoin="round" stroke-linecap="round" />
<polyline points="102.6,1137.6 112.8,1137.6 122.9,1132.7 133.1,1129.3 143.2,1116.6 153.4,1114.5 163.6,1108.4 173.7,1115.8 183.9,1116.0 194.0,1115.2 204.2,1127.9 214.4,1129.8 224.5,1132.0 234.7,1137.0 244.8,1137.6" fill="none" stroke="#a8a8a8" stroke-width="1.0" stroke-linejoin="round" stroke-linecap="round" />
<path d="M105.1,978.0 H102.6 V1137.6 H306.0" fill="none" stroke="#222" stroke-width="1.3"/>
<line x1="122.9" y1="1137.6" x2="122.9" y2="1132.1" stroke="#222" stroke-width="1.2" />
<line x1="143.2" y1="1137.6" x2="143.2" y2="1132.1" stroke="#222" stroke-width="1.2" />
<line x1="163.6" y1="1137.6" x2="163.6" y2="1132.1" stroke="#222" stroke-width="1.2" />
<line x1="183.9" y1="1137.6" x2="183.9" y2="1132.1" stroke="#222" stroke-width="1.2" />
<line x1="204.2" y1="1137.6" x2="204.2" y2="1132.1" stroke="#222" stroke-width="1.2" />
<line x1="224.5" y1="1137.6" x2="224.5" y2="1132.1" stroke="#222" stroke-width="1.2" />
<line x1="244.8" y1="1137.6" x2="244.8" y2="1132.1" stroke="#222" stroke-width="1.2" />
<line x1="265.2" y1="1137.6" x2="265.2" y2="1132.1" stroke="#222" stroke-width="1.2" />
<line x1="285.5" y1="1137.6" x2="285.5" y2="1132.1" stroke="#222" stroke-width="1.2" />
<line x1="305.8" y1="1137.6" x2="305.8" y2="1132.1" stroke="#222" stroke-width="1.2" />
<polyline points="102.6,1137.6 112.8,1137.6 122.9,1136.1 133.1,1129.9 143.2,1122.1 153.4,1117.5 163.6,1113.0 173.7,1113.6 183.9,1114.7 194.0,1119.8 204.2,1128.3 214.4,1132.6 224.5,1135.6 234.7,1137.0 244.8,1137.6" fill="none" stroke="#000" stroke-width="2.6" stroke-linejoin="round" stroke-linecap="round" />
<polyline points="102.6,1137.6 112.8,1137.6 122.9,1137.1 133.1,1131.9 143.2,1125.8 153.4,1123.4 163.6,1117.0 173.7,1115.6 183.9,1117.0 194.0,1123.4 204.2,1117.5 214.4,1129.9 224.5,1134.0 234.7,1132.0 244.8,1135.0 255.0,1136.8 265.2,1137.6 275.3,1137.6 285.5,1137.6 295.6,1137.6 305.8,1137.6" fill="none" stroke="#1c9c1c" stroke-width="2.4" stroke-linejoin="round" stroke-linecap="round" />
<polyline points="102.6,1083.4 112.8,1070.3 122.9,1112.4 133.1,1127.1 143.2,1134.7 153.4,1136.7 163.6,1137.3 173.7,1137.6 183.9,1137.6 194.0,1137.6 204.2,1137.6 214.4,1137.6 224.5,1137.6 234.7,1137.6 244.8,1137.6 255.0,1137.6 265.2,1137.6 275.3,1137.6 285.5,1137.6 295.6,1137.6 305.8,1137.6" fill="none" stroke="#ee1111" stroke-width="2.4" stroke-linejoin="round" stroke-linecap="round" />
<text x="98.6" y="989.2" font-size="16.5" text-anchor="end" textLength="26.5" lengthAdjust="spacingAndGlyphs" >100</text>
<text x="98.6" y="1066.4" font-size="16.5" text-anchor="end" textLength="17.5" lengthAdjust="spacingAndGlyphs" >50</text>
<text x="98.6" y="1143.4" font-size="16.5" text-anchor="end" textLength="8.8" lengthAdjust="spacingAndGlyphs" >0</text>
<text x="70.0" y="1046.8" font-size="19.0" text-anchor="middle" textLength="125.0" lengthAdjust="spacingAndGlyphs" transform="rotate(-90 70.0 1046.8)" >% comparisons</text>
<text x="115.5" y="1048.8" font-size="17.0" textLength="110.0" lengthAdjust="spacingAndGlyphs" >inter-individual</text>
<text x="162.8" y="1098.4" font-size="17.5" textLength="70.0" lengthAdjust="spacingAndGlyphs" >inter-type</text>
<text x="227.5" y="1122.0" font-size="17.0" textLength="85.5" lengthAdjust="spacingAndGlyphs" >GFP+ L-LP</text>
<text x="229.5" y="1001.0" font-size="18.5" textLength="13.5" lengthAdjust="spacingAndGlyphs" font-style="italic" >N</text>
<text x="244.0" y="1001.0" font-size="12.5" textLength="25.0" lengthAdjust="spacingAndGlyphs" font-style="italic" >conv</text>
<text x="274.0" y="1001.0" font-size="18.0" textLength="27.5" lengthAdjust="spacingAndGlyphs" >= 5</text>
<polyline points="101.9,1161.8 112.0,1255.0 122.2,1304.8 132.3,1315.6 142.5,1317.2 152.6,1317.2" fill="none" stroke="#f89a9a" stroke-width="1.2" stroke-linejoin="round" stroke-linecap="round" />
<polyline points="101.9,1174.2 112.0,1244.2 122.2,1293.9 132.3,1314.1 142.5,1317.2 152.6,1317.2" fill="none" stroke="#f89a9a" stroke-width="1.2" stroke-linejoin="round" stroke-linecap="round" />
<polyline points="101.9,1189.8 112.0,1228.6 122.2,1283.0 132.3,1312.5 142.5,1317.2 152.6,1317.2" fill="none" stroke="#f89a9a" stroke-width="1.2" stroke-linejoin="round" stroke-linecap="round" />
<polyline points="101.9,1205.3 112.0,1247.3 122.2,1301.7 132.3,1317.2 142.5,1317.2" fill="none" stroke="#f89a9a" stroke-width="1.2" stroke-linejoin="round" stroke-linecap="round" />
<polyline points="101.9,1224.0 112.0,1244.2 122.2,1286.1 132.3,1311.0 142.5,1317.2 152.6,1317.2" fill="none" stroke="#f89a9a" stroke-width="1.2" stroke-linejoin="round" stroke-linecap="round" />
<polyline points="101.9,1231.7 112.0,1261.3 122.2,1309.4 132.3,1317.2 142.5,1317.2" fill="none" stroke="#f89a9a" stroke-width="1.2" stroke-linejoin="round" stroke-linecap="round" />
<polyline points="101.9,1242.6 112.0,1247.3 122.2,1295.4 132.3,1314.1 142.5,1317.2 152.6,1317.2" fill="none" stroke="#f89a9a" stroke-width="1.2" stroke-linejoin="round" stroke-linecap="round" />
<polyline points="101.9,1255.0 112.0,1270.6 122.2,1304.8 132.3,1315.6 142.5,1317.2 152.6,1317.2" fill="none" stroke="#f89a9a" stroke-width="1.2" stroke-linejoin="round" stroke-linecap="round" />
<polyline points="101.9,1286.1 112.0,1228.6 122.2,1278.4 132.3,1309.4 142.5,1317.2 152.6,1317.2" fill="none" stroke="#f89a9a" stroke-width="1.2" stroke-linejoin="round" stroke-linecap="round" />
<polyline points="101.9,1293.9 112.0,1258.1 122.2,1289.2 132.3,1312.5 142.5,1317.2 152.6,1317.2" fill="none" stroke="#f89a9a" stroke-width="1.2" stroke-linejoin="round" stroke-linecap="round" />
<polyline points="101.9,1196.0 112.0,1286.1 122.2,1314.1 132.3,1317.2 142.5,1317.2" fill="none" stroke="#f89a9a" stroke-width="1.2" stroke-linejoin="round" stroke-linecap="round" />
<polyline points="101.9,1180.4 112.0,1309.4 122.2,1317.2 132.3,1317.2" fill="none" stroke="#f89a9a" stroke-width="1.2" stroke-linejoin="round" stroke-linecap="round" />
<polyline points="101.9,1317.2 112.0,1302.5 122.2,1280.6 132.3,1277.7 142.5,1287.3 152.6,1302.3 162.7,1307.9 172.9,1316.4 183.0,1316.7 193.2,1317.2" fill="none" stroke="#a8a8a8" stroke-width="1.0" stroke-linejoin="round" stroke-linecap="round" />
<polyline points="101.9,1317.2 112.0,1300.5 122.2,1286.1 132.3,1272.8 142.5,1285.1 152.6,1297.7 162.7,1311.2 172.9,1316.5 183.0,1316.7 193.2,1317.2" fill="none" stroke="#a8a8a8" stroke-width="1.0" stroke-linejoin="round" stroke-linecap="round" />
<polyline points="101.9,1317.2 112.0,1298.9 122.2,1282.9 132.3,1269.6 142.5,1280.7 152.6,1296.9 162.7,1308.3 172.9,1315.2 183.0,1316.8 193.2,1317.2" fill="none" stroke="#a8a8a8" stroke-width="1.0" stroke-linejoin="round" stroke-linecap="round" />
<polyline points="101.9,1317.2 112.0,1299.8 122.2,1279.7 132.3,1265.0 142.5,1281.6 152.6,1299.5 162.7,1306.6 172.9,1315.6 183.0,1316.7 193.2,1317.2" fill="none" stroke="#a8a8a8" stroke-width="1.0" stroke-linejoin="round" stroke-linecap="round" />
<polyline points="101.9,1317.2 112.0,1302.1 122.2,1285.6 132.3,1271.4 142.5,1286.7 152.6,1295.9 162.7,1306.8 172.9,1315.4 183.0,1316.8 193.2,1317.2" fill="none" stroke="#a8a8a8" stroke-width="1.0" stroke-linejoin="round" stroke-linecap="round" />
<polyline points="101.9,1317.2 112.0,1302.5 122.2,1280.5 132.3,1278.8 142.5,1283.1 152.6,1294.4 162.7,1308.7 172.9,1316.8 183.0,1316.7 193.2,1317.2" fill="none" stroke="#a8a8a8" stroke-width="1.0" stroke-linejoin="round" stroke-linecap="round" />
<polyline points="101.9,1317.2 112.0,1302.5 122.2,1287.2 132.3,1277.2 142.5,1285.9 152.6,1302.4 162.7,1310.9 172.9,1313.5 183.0,1316.7 193.2,1317.2" fill="none" stroke="#a8a8a8" stroke-width="1.0" stroke-linejoin="round" stroke-linecap="round" />
<polyline points="101.9,1317.2 112.0,1297.2 122.2,1280.8 132.3,1279.2 142.5,1284.8 152.6,1297.6 162.7,1308.3 172.9,1316.5 183.0,1316.7 193.2,1317.2" fill="none" stroke="#a8a8a8" stroke-width="1.0" stroke-linejoin="round" stroke-linecap="round" />
<polyline points="101.9,1317.2 112.0,1303.0 122.2,1282.8 132.3,1269.9 142.5,1285.2 152.6,1293.9 162.7,1307.0 172.9,1313.5 183.0,1316.8 193.2,1317.2" fill="none" stroke="#a8a8a8" stroke-width="1.0" stroke-linejoin="round" stroke-linecap="round" />
<polyline points="101.9,1317.2 112.0,1301.5 122.2,1275.6 132.3,1263.4 142.5,1277.9 152.6,1300.8 162.7,1311.4 172.9,1312.9 183.0,1316.7 193.2,1317.2" fill="none" stroke="#a8a8a8" stroke-width="1.0" stroke-linejoin="round" stroke-linecap="round" />
<polyline points="101.9,1317.2 112.0,1297.9 122.2,1277.7 132.3,1274.7 142.5,1282.4 152.6,1295.7 162.7,1307.4 172.9,1316.3 183.0,1316.8 193.2,1317.2" fill="none" stroke="#a8a8a8" stroke-width="1.0" stroke-linejoin="round" stroke-linecap="round" />
<polyline points="101.9,1317.2 112.0,1298.2 122.2,1281.8 132.3,1279.0 142.5,1276.4 152.6,1295.8 162.7,1307.7 172.9,1316.0 183.0,1316.8 193.2,1317.2" fill="none" stroke="#a8a8a8" stroke-width="1.0" stroke-linejoin="round" stroke-linecap="round" />
<polyline points="101.9,1317.2 112.0,1301.1 122.2,1282.2 132.3,1268.6 142.5,1281.0 152.6,1297.8 162.7,1311.5 172.9,1316.4 183.0,1316.8 193.2,1317.2" fill="none" stroke="#a8a8a8" stroke-width="1.0" stroke-linejoin="round" stroke-linecap="round" />
<polyline points="101.9,1317.2 112.0,1301.9 122.2,1278.4 132.3,1276.8 142.5,1285.8 152.6,1296.3 162.7,1307.9 172.9,1314.8 183.0,1316.7 193.2,1317.2" fill="none" stroke="#a8a8a8" stroke-width="1.0" stroke-linejoin="round" stroke-linecap="round" />
<path d="M104.4,1159.5 H101.9 V1317.2 H304.8" fill="none" stroke="#222" stroke-width="1.3"/>
<line x1="122.2" y1="1317.2" x2="122.2" y2="1311.7" stroke="#222" stroke-width="1.2" />
<line x1="142.5" y1="1317.2" x2="142.5" y2="1311.7" stroke="#222" stroke-width="1.2" />
<line x1="162.7" y1="1317.2" x2="162.7" y2="1311.7" stroke="#222" stroke-width="1.2" />
<line x1="183.0" y1="1317.2" x2="183.0" y2="1311.7" stroke="#222" stroke-width="1.2" />
<line x1="203.3" y1="1317.2" x2="203.3" y2="1311.7" stroke="#222" stroke-width="1.2" />
<line x1="223.6" y1="1317.2" x2="223.6" y2="1311.7" stroke="#222" stroke-width="1.2" />
<line x1="243.9" y1="1317.2" x2="243.9" y2="1311.7" stroke="#222" stroke-width="1.2" />
<line x1="264.1" y1="1317.2" x2="264.1" y2="1311.7" stroke="#222" stroke-width="1.2" />
<line x1="284.4" y1="1317.2" x2="284.4" y2="1311.7" stroke="#222" stroke-width="1.2" />
<line x1="304.7" y1="1317.2" x2="304.7" y2="1311.7" stroke="#222" stroke-width="1.2" />
<polyline points="101.9,1317.2 112.0,1301.2 122.2,1280.4 132.3,1271.7 142.5,1282.1 152.6,1297.9 162.7,1309.3 172.9,1314.9 183.0,1316.7 193.2,1317.2" fill="none" stroke="#000" stroke-width="2.6" stroke-linejoin="round" stroke-linecap="round" />
<polyline points="101.9,1317.2 112.0,1317.2 122.2,1315.6 132.3,1312.4 142.5,1303.5 152.6,1302.0 162.7,1295.6 172.9,1295.9 183.0,1296.4 193.2,1304.5 203.3,1297.2 213.4,1307.6 223.6,1314.1 233.7,1313.2 243.9,1315.2 254.0,1316.3 264.1,1317.2 274.3,1317.2 284.4,1317.2 294.6,1317.2 304.7,1317.2" fill="none" stroke="#1c9c1c" stroke-width="2.4" stroke-linejoin="round" stroke-linecap="round" />
<polyline points="101.9,1215.6 112.0,1265.9 122.2,1312.4 132.3,1317.2 142.5,1317.2 152.6,1317.2 162.7,1317.2 172.9,1317.2 183.0,1317.2 193.2,1317.2 203.3,1317.2 213.4,1317.2 223.6,1317.2 233.7,1317.2 243.9,1317.2 254.0,1317.2 264.1,1317.2 274.3,1317.2 284.4,1317.2 294.6,1317.2 304.7,1317.2" fill="none" stroke="#ee1111" stroke-width="2.4" stroke-linejoin="round" stroke-linecap="round" />
<text x="98.2" y="1170.1" font-size="16.5" text-anchor="end" textLength="26.5" lengthAdjust="spacingAndGlyphs" >100</text>
<text x="98.2" y="1247.5" font-size="16.5" text-anchor="end" textLength="17.5" lengthAdjust="spacingAndGlyphs" >50</text>
<text x="98.2" y="1323.0" font-size="16.5" text-anchor="end" textLength="8.8" lengthAdjust="spacingAndGlyphs" >0</text>
<text x="71.5" y="1230.3" font-size="19.0" text-anchor="middle" textLength="127.0" lengthAdjust="spacingAndGlyphs" transform="rotate(-90 71.5 1230.3)" >% comparisons</text>
<text x="219.5" y="1188.0" font-size="18.5" textLength="13.5" lengthAdjust="spacingAndGlyphs" font-style="italic" >N</text>
<text x="235.5" y="1188.0" font-size="12.5" textLength="24.5" lengthAdjust="spacingAndGlyphs" font-style="italic" >conv</text>
<text x="265.0" y="1188.0" font-size="18.0" textLength="39.5" lengthAdjust="spacingAndGlyphs" >= 20</text>
<text x="102.9" y="1336.5" font-size="17.0" text-anchor="middle" >0</text>
<text x="204.3" y="1336.5" font-size="17.0" text-anchor="middle" >1</text>
<text x="305.7" y="1336.5" font-size="17.0" text-anchor="middle" >2</text>
<text x="150.0" y="1350.5" font-size="18.5" textLength="121.0" lengthAdjust="spacingAndGlyphs" >distance(corr)</text>
<text x="362.0" y="982.5" font-size="43.5" textLength="31.0" lengthAdjust="spacingAndGlyphs" >D</text>
<path d="M413.0,1029.0 H410.0 V1310.6 H630.0 V1029.0 H627.0" fill="none" stroke="#222" stroke-width="1.3"/>
<line x1="410.0" y1="1263.7" x2="413.5" y2="1263.7" stroke="#222" stroke-width="1.2" />
<line x1="410.0" y1="1216.7" x2="413.5" y2="1216.7" stroke="#222" stroke-width="1.2" />
<line x1="410.0" y1="1169.8" x2="413.5" y2="1169.8" stroke="#222" stroke-width="1.2" />
<line x1="410.0" y1="1122.9" x2="413.5" y2="1122.9" stroke="#222" stroke-width="1.2" />
<line x1="410.0" y1="1075.9" x2="413.5" y2="1075.9" stroke="#222" stroke-width="1.2" />
<line x1="630.0" y1="1282.4" x2="626.5" y2="1282.4" stroke="#222" stroke-width="1.2" />
<line x1="630.0" y1="1254.3" x2="626.5" y2="1254.3" stroke="#222" stroke-width="1.2" />
<line x1="630.0" y1="1226.1" x2="626.5" y2="1226.1" stroke="#222" stroke-width="1.2" />
<line x1="630.0" y1="1198.0" x2="626.5" y2="1198.0" stroke="#222" stroke-width="1.2" />
<line x1="630.0" y1="1169.8" x2="626.5" y2="1169.8" stroke="#222" stroke-width="1.2" />
<line x1="630.0" y1="1141.6" x2="626.5" y2="1141.6" stroke="#222" stroke-width="1.2" />
<line x1="630.0" y1="1113.5" x2="626.5" y2="1113.5" stroke="#222" stroke-width="1.2" />
<line x1="630.0" y1="1085.3" x2="626.5" y2="1085.3" stroke="#222" stroke-width="1.2" />
<line x1="630.0" y1="1057.2" x2="626.5" y2="1057.2" stroke="#222" stroke-width="1.2" />
<text x="406.5" y="1316.1" font-size="16.5" text-anchor="end" >0</text>
<text x="406.5" y="1269.2" font-size="16.5" text-anchor="end" >2</text>
<text x="406.5" y="1222.2" font-size="16.5" text-anchor="end" >4</text>
<text x="406.5" y="1175.3" font-size="16.5" text-anchor="end" >6</text>
<text x="406.5" y="1128.4" font-size="16.5" text-anchor="end" >8</text>
<text x="406.5" y="1081.4" font-size="16.5" text-anchor="end" >10</text>
<text x="406.5" y="1034.5" font-size="16.5" text-anchor="end" >12</text>
<text x="634.0" y="1316.1" font-size="16.5" >0</text>
<text x="634.0" y="1259.8" font-size="16.5" >0.2</text>
<text x="634.0" y="1203.5" font-size="16.5" >0.4</text>
<text x="634.0" y="1147.1" font-size="16.5" >0.6</text>
<text x="634.0" y="1090.8" font-size="16.5" >0.8</text>
<text x="634.0" y="1036.8" font-size="16.5" >1</text>
<text x="433.1" y="1333.0" font-size="16.5" text-anchor="middle" >5</text>
<text x="491.1" y="1333.0" font-size="16.5" text-anchor="middle" >10</text>
<text x="549.0" y="1333.0" font-size="16.5" text-anchor="middle" >15</text>
<text x="607.0" y="1333.0" font-size="16.5" text-anchor="middle" >20</text>
<text x="390.6" y="1171.3" font-size="20.0" text-anchor="middle" textLength="128.0" lengthAdjust="spacingAndGlyphs" transform="rotate(-90 390.6 1171.3)" >K-L divergence</text>
<text x="676.7" y="1174.9" font-size="19.5" text-anchor="middle" textLength="191.0" lengthAdjust="spacingAndGlyphs" transform="rotate(-90 676.7 1174.9)" >goodness of clustering</text>
<text x="500.0" y="1349.0" font-size="18.5" textLength="14.5" lengthAdjust="spacingAndGlyphs" font-style="italic" >N</text>
<text x="514.0" y="1349.0" font-size="12.5" textLength="25.0" lengthAdjust="spacingAndGlyphs" font-style="italic" >conv</text>
<polyline points="433.1,1038.5 491.1,1037.8 549.0,1036.8 607.0,1035.0" fill="none" stroke="#111" stroke-width="1.3" stroke-linejoin="round" stroke-linecap="round" />
<polyline points="433.1,1122.1 491.1,1126.0 549.0,1120.1 607.0,1121.0" fill="none" stroke="#111" stroke-width="1.3" stroke-linejoin="round" stroke-linecap="round" />
<polyline points="433.1,1306.9 491.1,1291.5 549.0,1268.8 607.0,1240.3" fill="none" stroke="#111" stroke-width="1.3" stroke-linejoin="round" stroke-linecap="round" />
<circle cx="433.1" cy="1038.5" r="5.0" fill="#f01010" stroke="none" stroke-width="1.0"/>
<circle cx="491.1" cy="1037.8" r="5.0" fill="#f01010" stroke="none" stroke-width="1.0"/>
<circle cx="549.0" cy="1036.8" r="5.0" fill="#f01010" stroke="none" stroke-width="1.0"/>
<circle cx="607.0" cy="1035.0" r="5.0" fill="#f01010" stroke="none" stroke-width="1.0"/>
<circle cx="491.1" cy="1032.4" r="3.8" fill="none" stroke="#f01010" stroke-width="2.4"/>
<circle cx="491.1" cy="1085.9" r="3.8" fill="none" stroke="#000" stroke-width="2.4"/>
<circle cx="433.1" cy="1122.1" r="5.1" fill="#000" stroke="none" stroke-width="1.0"/>
<circle cx="491.1" cy="1126.0" r="5.1" fill="#000" stroke="none" stroke-width="1.0"/>
<circle cx="549.0" cy="1120.1" r="5.1" fill="#000" stroke="none" stroke-width="1.0"/>
<circle cx="607.0" cy="1121.0" r="5.1" fill="#000" stroke="none" stroke-width="1.0"/>
<rect x="429.2" y="1303.0" width="7.8" height="7.8" fill="#000" stroke="none" stroke-width="1.0" />
<rect x="487.2" y="1287.6" width="7.8" height="7.8" fill="#000" stroke="none" stroke-width="1.0" />
<rect x="545.1" y="1264.9" width="7.8" height="7.8" fill="#000" stroke="none" stroke-width="1.0" />
<rect x="603.1" y="1236.4" width="7.8" height="7.8" fill="#000" stroke="none" stroke-width="1.0" />
<rect x="487.8" y="1301.7" width="6.6" height="6.6" fill="none" stroke="#000" stroke-width="2.2" />
<text x="25.8" y="1412.7" font-size="43.5" textLength="27.0" lengthAdjust="spacingAndGlyphs" >E</text>
<path d="M151.6,1636.4L151.6,1631.6M161.3,1636.4L161.3,1631.6M151.6,1631.6L161.3,1631.6M156.5,1631.6L156.5,1630.2M171.0,1636.4L171.0,1630.2M156.5,1630.2L171.0,1630.2M163.7,1630.2L163.7,1628.2M180.7,1636.4L180.7,1628.2M163.7,1628.2L180.7,1628.2M190.4,1636.4L190.4,1630.0M200.1,1636.4L200.1,1630.0M190.4,1630.0L200.1,1630.0M172.2,1628.2L172.2,1626.4M195.3,1630.0L195.3,1626.4M172.2,1626.4L195.3,1626.4M183.7,1626.4L183.7,1625.5M209.8,1636.4L209.8,1625.5M183.7,1625.5L209.8,1625.5M219.5,1636.4L219.5,1627.3M229.2,1636.4L229.2,1627.3M219.5,1627.3L229.2,1627.3M196.8,1625.5L196.8,1624.7M224.4,1627.3L224.4,1624.7M196.8,1624.7L224.4,1624.7M210.6,1624.7L210.6,1618.8M238.9,1636.4L238.9,1618.8M210.6,1618.8L238.9,1618.8M287.5,1636.4L287.5,1629.6M297.2,1636.4L297.2,1629.6M287.5,1629.6L297.2,1629.6M277.8,1636.4L277.8,1628.8M292.3,1629.6L292.3,1628.8M277.8,1628.8L292.3,1628.8M258.4,1636.4L258.4,1627.6M268.1,1636.4L268.1,1627.6M258.4,1627.6L268.1,1627.6M263.2,1627.6L263.2,1624.0M285.0,1628.8L285.0,1624.0M263.2,1624.0L285.0,1624.0M248.6,1636.4L248.6,1623.2M274.1,1624.0L274.1,1623.2M248.6,1623.2L274.1,1623.2M261.4,1623.2L261.4,1619.4M306.9,1636.4L306.9,1619.4M261.4,1619.4L306.9,1619.4M284.1,1619.4L284.1,1605.7M316.6,1636.4L316.6,1605.7M284.1,1605.7L316.6,1605.7M300.4,1605.7L300.4,1604.2M326.3,1636.4L326.3,1604.2M300.4,1604.2L326.3,1604.2M313.3,1604.2L313.3,1588.0M336.0,1636.4L336.0,1588.0M313.3,1588.0L336.0,1588.0M355.4,1636.4L355.4,1616.1M365.1,1636.4L365.1,1616.1M355.4,1616.1L365.1,1616.1M345.7,1636.4L345.7,1611.7M360.3,1616.1L360.3,1611.7M345.7,1611.7L360.3,1611.7M374.8,1636.4L374.8,1628.4M384.5,1636.4L384.5,1628.4M374.8,1628.4L384.5,1628.4M379.7,1628.4L379.7,1620.5M394.2,1636.4L394.2,1620.5M379.7,1620.5L394.2,1620.5M403.9,1636.4L403.9,1621.5M413.6,1636.4L413.6,1621.5M403.9,1621.5L413.6,1621.5M386.9,1620.5L386.9,1610.5M408.8,1621.5L408.8,1610.5M386.9,1610.5L408.8,1610.5M353.0,1611.7L353.0,1605.8M397.9,1610.5L397.9,1605.8M353.0,1605.8L397.9,1605.8M423.3,1636.4L423.3,1620.0M433.0,1636.4L433.0,1620.0M423.3,1620.0L433.0,1620.0M375.4,1605.8L375.4,1601.4M428.2,1620.0L428.2,1601.4M375.4,1601.4L428.2,1601.4M462.2,1636.4L462.2,1610.8M471.9,1636.4L471.9,1610.8M462.2,1610.8L471.9,1610.8M452.5,1636.4L452.5,1604.8M467.0,1610.8L467.0,1604.8M452.5,1604.8L467.0,1604.8M442.8,1636.4L442.8,1598.0M459.7,1604.8L459.7,1598.0M442.8,1598.0L459.7,1598.0M491.3,1636.4L491.3,1617.6M501.0,1636.4L501.0,1617.6M491.3,1617.6L501.0,1617.6M451.2,1598.0L451.2,1594.4M481.6,1636.4L481.6,1594.4M451.2,1594.4L481.6,1594.4M466.4,1594.4L466.4,1593.2M496.1,1617.6L496.1,1593.2M466.4,1593.2L496.1,1593.2M481.3,1593.2L481.3,1587.2M510.7,1636.4L510.7,1587.2M481.3,1587.2L510.7,1587.2M496.0,1587.2L496.0,1568.5M520.4,1636.4L520.4,1568.5M496.0,1568.5L520.4,1568.5M539.8,1636.4L539.8,1578.8M549.5,1636.4L549.5,1578.8M539.8,1578.8L549.5,1578.8M559.2,1636.4L559.2,1613.7M568.9,1636.4L568.9,1613.7M559.2,1613.7L568.9,1613.7M564.1,1613.7L564.1,1602.2M578.6,1636.4L578.6,1602.2M564.1,1602.2L578.6,1602.2M607.7,1636.4L607.7,1615.9M617.4,1636.4L617.4,1615.9M607.7,1615.9L617.4,1615.9M598.0,1636.4L598.0,1613.0M612.6,1615.9L612.6,1613.0M598.0,1613.0L612.6,1613.0M588.3,1636.4L588.3,1599.7M605.3,1613.0L605.3,1599.7M588.3,1599.7L605.3,1599.7M596.8,1599.7L596.8,1592.8M627.1,1636.4L627.1,1592.8M596.8,1592.8L627.1,1592.8M571.3,1602.2L571.3,1591.0M612.0,1592.8L612.0,1591.0M571.3,1591.0L612.0,1591.0M544.7,1578.8L544.7,1569.0M591.7,1591.0L591.7,1569.0M544.7,1569.0L591.7,1569.0" fill="none" stroke="#000" stroke-width="2.0" stroke-linecap="square"/>
<path d="M508.2,1568.5L508.2,1555.6M530.1,1636.4L530.1,1555.6M508.2,1555.6L530.1,1555.6M224.8,1618.8L224.8,1529.0M324.7,1588.0L324.7,1529.0M224.8,1529.0L324.7,1529.0M274.7,1529.0L274.7,1469.0M401.8,1601.4L401.8,1469.0M274.7,1469.0L401.8,1469.0M519.1,1555.6L519.1,1520.0M568.2,1569.0L568.2,1520.0M519.1,1520.0L568.2,1520.0M338.3,1469.0L338.3,1396.5M543.6,1520.0L543.6,1396.5M338.3,1396.5L543.6,1396.5" fill="none" stroke="#000" stroke-width="1.4" stroke-linecap="square"/>
<path d="M142.5,1386 V1636.4 H636" fill="none" stroke="#111" stroke-width="1.4"/>
<line x1="142.5" y1="1591.3" x2="147.5" y2="1591.3" stroke="#111" stroke-width="1.3" />
<line x1="142.5" y1="1546.3" x2="147.5" y2="1546.3" stroke="#111" stroke-width="1.3" />
<line x1="142.5" y1="1501.2" x2="147.5" y2="1501.2" stroke="#111" stroke-width="1.3" />
<line x1="142.5" y1="1456.2" x2="147.5" y2="1456.2" stroke="#111" stroke-width="1.3" />
<line x1="142.5" y1="1411.1" x2="147.5" y2="1411.1" stroke="#111" stroke-width="1.3" />
<text x="138.3" y="1640.8" font-size="17.5" text-anchor="end" >0</text>
<text x="138.3" y="1596.8" font-size="17.5" text-anchor="end" >0.2</text>
<text x="138.3" y="1552.8" font-size="17.5" text-anchor="end" >0.4</text>
<text x="138.3" y="1508.9" font-size="17.5" text-anchor="end" >0.6</text>
<text x="138.3" y="1464.9" font-size="17.5" text-anchor="end" >0.8</text>
<text x="138.3" y="1420.9" font-size="17.5" text-anchor="end" >1</text>
<text x="102.8" y="1525.0" font-size="19" text-anchor="middle" textLength="150.0" lengthAdjust="spacingAndGlyphs" transform="rotate(-90 102.8 1525.0)" >linkage distance</text>
<rect x="148.4" y="1640.8" width="6.4" height="10.4" fill="#1010f0" stroke="none" stroke-width="1.0" />
<rect x="158.1" y="1640.8" width="6.4" height="10.4" fill="#1010f0" stroke="none" stroke-width="1.0" />
<rect x="167.8" y="1640.8" width="6.4" height="10.4" fill="#1010f0" stroke="none" stroke-width="1.0" />
<rect x="177.5" y="1640.8" width="6.4" height="10.4" fill="#1010f0" stroke="none" stroke-width="1.0" />
<rect x="187.2" y="1640.8" width="6.4" height="10.4" fill="#1010f0" stroke="none" stroke-width="1.0" />
<rect x="196.9" y="1640.8" width="6.4" height="10.4" fill="#1010f0" stroke="none" stroke-width="1.0" />
<rect x="206.6" y="1640.8" width="6.4" height="10.4" fill="#1010f0" stroke="none" stroke-width="1.0" />
<rect x="216.3" y="1640.8" width="6.4" height="10.4" fill="#1010f0" stroke="none" stroke-width="1.0" />
<rect x="226.0" y="1640.8" width="6.4" height="10.4" fill="#1010f0" stroke="none" stroke-width="1.0" />
<rect x="235.7" y="1640.8" width="6.4" height="10.4" fill="#1010f0" stroke="none" stroke-width="1.0" />
<rect x="245.4" y="1640.8" width="6.4" height="10.4" fill="#b8cc10" stroke="none" stroke-width="1.0" />
<rect x="255.2" y="1640.8" width="6.4" height="10.4" fill="#b8cc10" stroke="none" stroke-width="1.0" />
<rect x="264.9" y="1640.8" width="6.4" height="10.4" fill="#b8cc10" stroke="none" stroke-width="1.0" />
<rect x="274.6" y="1640.8" width="6.4" height="10.4" fill="#b8cc10" stroke="none" stroke-width="1.0" />
<rect x="284.3" y="1640.8" width="6.4" height="10.4" fill="#b8cc10" stroke="none" stroke-width="1.0" />
<rect x="294.0" y="1640.8" width="6.4" height="10.4" fill="#b8cc10" stroke="none" stroke-width="1.0" />
<rect x="303.7" y="1640.8" width="6.4" height="10.4" fill="#b8cc10" stroke="none" stroke-width="1.0" />
<rect x="313.4" y="1640.8" width="6.4" height="10.4" fill="#b8cc10" stroke="none" stroke-width="1.0" />
<rect x="323.1" y="1640.8" width="6.4" height="10.4" fill="#b8cc10" stroke="none" stroke-width="1.0" />
<rect x="332.8" y="1640.8" width="6.4" height="10.4" fill="#b8cc10" stroke="none" stroke-width="1.0" />
<rect x="342.5" y="1640.8" width="6.4" height="10.4" fill="#109010" stroke="none" stroke-width="1.0" />
<rect x="352.2" y="1640.8" width="6.4" height="10.4" fill="#109010" stroke="none" stroke-width="1.0" />
<rect x="361.9" y="1640.8" width="6.4" height="10.4" fill="#109010" stroke="none" stroke-width="1.0" />
<rect x="371.6" y="1640.8" width="6.4" height="10.4" fill="#109010" stroke="none" stroke-width="1.0" />
<rect x="381.3" y="1640.8" width="6.4" height="10.4" fill="#109010" stroke="none" stroke-width="1.0" />
<rect x="391.0" y="1640.8" width="6.4" height="10.4" fill="#109010" stroke="none" stroke-width="1.0" />
<rect x="400.7" y="1640.8" width="6.4" height="10.4" fill="#109010" stroke="none" stroke-width="1.0" />
<rect x="410.4" y="1640.8" width="6.4" height="10.4" fill="#109010" stroke="none" stroke-width="1.0" />
<rect x="420.1" y="1640.8" width="6.4" height="10.4" fill="#109010" stroke="none" stroke-width="1.0" />
<rect x="429.8" y="1640.8" width="6.4" height="10.4" fill="#109010" stroke="none" stroke-width="1.0" />
<rect x="439.6" y="1640.8" width="6.4" height="10.4" fill="#f01010" stroke="none" stroke-width="1.0" />
<rect x="449.3" y="1640.8" width="6.4" height="10.4" fill="#f01010" stroke="none" stroke-width="1.0" />
<rect x="459.0" y="1640.8" width="6.4" height="10.4" fill="#f01010" stroke="none" stroke-width="1.0" />
<rect x="468.7" y="1640.8" width="6.4" height="10.4" fill="#f01010" stroke="none" stroke-width="1.0" />
<rect x="478.4" y="1640.8" width="6.4" height="10.4" fill="#f01010" stroke="none" stroke-width="1.0" />
<rect x="488.1" y="1640.8" width="6.4" height="10.4" fill="#f01010" stroke="none" stroke-width="1.0" />
<rect x="497.8" y="1640.8" width="6.4" height="10.4" fill="#f01010" stroke="none" stroke-width="1.0" />
<rect x="507.5" y="1640.8" width="6.4" height="10.4" fill="#f01010" stroke="none" stroke-width="1.0" />
<rect x="517.2" y="1640.8" width="6.4" height="10.4" fill="#f01010" stroke="none" stroke-width="1.0" />
<rect x="526.9" y="1640.8" width="6.4" height="10.4" fill="#f01010" stroke="none" stroke-width="1.0" />
<rect x="536.6" y="1640.8" width="6.4" height="10.4" fill="#10c8d8" stroke="none" stroke-width="1.0" />
<rect x="546.3" y="1640.8" width="6.4" height="10.4" fill="#10c8d8" stroke="none" stroke-width="1.0" />
<rect x="556.0" y="1640.8" width="6.4" height="10.4" fill="#10c8d8" stroke="none" stroke-width="1.0" />
<rect x="565.7" y="1640.8" width="6.4" height="10.4" fill="#10c8d8" stroke="none" stroke-width="1.0" />
<rect x="575.4" y="1640.8" width="6.4" height="10.4" fill="#10c8d8" stroke="none" stroke-width="1.0" />
<rect x="585.1" y="1640.8" width="6.4" height="10.4" fill="#10c8d8" stroke="none" stroke-width="1.0" />
<rect x="594.8" y="1640.8" width="6.4" height="10.4" fill="#10c8d8" stroke="none" stroke-width="1.0" />
<rect x="604.5" y="1640.8" width="6.4" height="10.4" fill="#10c8d8" stroke="none" stroke-width="1.0" />
<rect x="614.2" y="1640.8" width="6.4" height="10.4" fill="#10c8d8" stroke="none" stroke-width="1.0" />
<rect x="623.9" y="1640.8" width="6.4" height="10.4" fill="#10c8d8" stroke="none" stroke-width="1.0" />
</svg></body></html>
